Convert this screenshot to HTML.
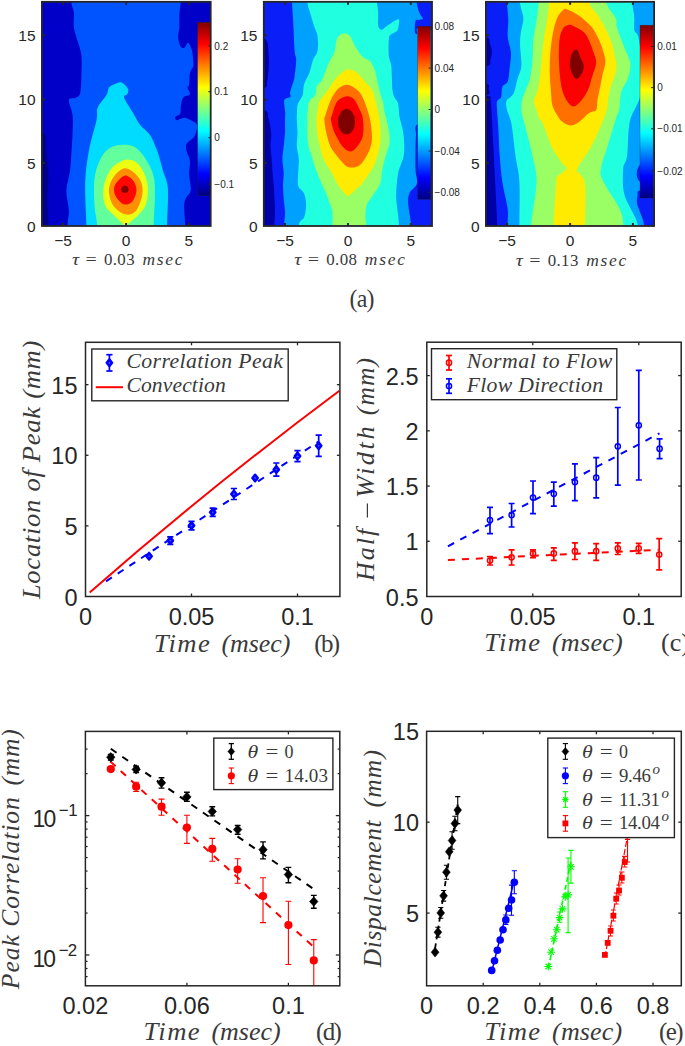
<!DOCTYPE html>
<html><head><meta charset="utf-8"><style>
html,body{margin:0;padding:0;background:#fff;}
body{width:685px;height:1046px;overflow:hidden;}
svg{display:block;}
</style></head><body>
<svg width="685" height="1046" viewBox="0 0 685 1046">
<rect x="0" y="0" width="685" height="1046" fill="#ffffff"/>
<defs><linearGradient id="jetg" x1="0" y1="0" x2="0" y2="1"><stop offset="0.0000" stop-color="#800000"/><stop offset="0.0312" stop-color="#9f0000"/><stop offset="0.0625" stop-color="#bf0000"/><stop offset="0.0938" stop-color="#df0000"/><stop offset="0.1250" stop-color="#ff0000"/><stop offset="0.1562" stop-color="#ff2000"/><stop offset="0.1875" stop-color="#ff4000"/><stop offset="0.2188" stop-color="#ff6000"/><stop offset="0.2500" stop-color="#ff8000"/><stop offset="0.2812" stop-color="#ff9f00"/><stop offset="0.3125" stop-color="#ffbf00"/><stop offset="0.3438" stop-color="#ffdf00"/><stop offset="0.3750" stop-color="#ffff00"/><stop offset="0.4062" stop-color="#dfff20"/><stop offset="0.4375" stop-color="#bfff40"/><stop offset="0.4688" stop-color="#9fff60"/><stop offset="0.5000" stop-color="#80ff80"/><stop offset="0.5312" stop-color="#60ff9f"/><stop offset="0.5625" stop-color="#40ffbf"/><stop offset="0.5938" stop-color="#20ffdf"/><stop offset="0.6250" stop-color="#00ffff"/><stop offset="0.6562" stop-color="#00dfff"/><stop offset="0.6875" stop-color="#00bfff"/><stop offset="0.7188" stop-color="#009fff"/><stop offset="0.7500" stop-color="#0080ff"/><stop offset="0.7812" stop-color="#0060ff"/><stop offset="0.8125" stop-color="#0040ff"/><stop offset="0.8438" stop-color="#0020ff"/><stop offset="0.8750" stop-color="#0000ff"/><stop offset="0.9062" stop-color="#0000df"/><stop offset="0.9375" stop-color="#0000bf"/><stop offset="0.9688" stop-color="#00009f"/><stop offset="1.0000" stop-color="#000080"/></linearGradient><clipPath id="c1"><rect x="42" y="2" width="168.7" height="224"/></clipPath><clipPath id="c2"><rect x="263.8" y="2" width="168.3" height="223.8"/></clipPath><clipPath id="c3"><rect x="485.9" y="2" width="168.2" height="224"/></clipPath></defs><g clip-path="url(#c1)"><rect x="30" y="-10" width="200" height="250" fill="#0054ff"/><path d="M71.4,-10.0 C80.0,-7.8 71.0,-0.8 71.4,3.0 C71.8,6.8 73.5,8.5 73.9,12.6 C74.3,16.7 73.3,22.8 73.9,27.6 C74.5,32.4 76.5,36.8 77.7,41.4 C79.0,46.0 80.8,49.6 81.4,55.2 C82.0,60.9 81.6,69.0 81.4,75.3 C81.2,81.6 81.2,89.1 80.2,92.9 C79.2,96.7 77.0,96.7 75.1,97.9 C73.2,99.1 69.3,97.2 68.9,100.1 C68.5,103.0 72.0,109.8 72.6,115.2 C73.2,120.7 72.8,126.5 72.6,132.8 C72.4,139.1 71.8,146.6 71.4,152.9 C71.0,159.2 70.9,164.1 70.1,170.4 C69.3,176.7 66.6,183.8 66.4,190.5 C66.2,197.2 68.7,204.9 68.9,210.6 C69.1,216.2 67.8,217.8 67.6,224.4 C67.4,231.0 75.5,245.7 67.6,250.0 C59.7,254.3 27.9,293.3 20.0,250.0 C12.1,206.7 11.4,33.3 20.0,-10.0 C28.6,-53.3 62.8,-12.2 71.4,-10.0 Z" fill="#0000c8"/><path d="M20.0,132.8 C23.9,113.3 39.1,129.9 43.5,132.8 C47.9,135.7 45.7,143.0 46.5,150.0 C47.3,157.0 48.3,166.7 48.5,175.0 C48.7,183.3 47.5,191.8 47.5,200.0 C47.5,208.2 48.3,215.7 48.5,224.0 C48.7,232.3 53.2,245.7 48.5,250.0 C43.8,254.3 24.8,269.5 20.0,250.0 C15.2,230.5 16.1,152.3 20.0,132.8 Z" fill="#00008c"/><path d="M180.6,-10.0 C170.7,-7.8 180.8,-1.2 180.6,3.0 C180.4,7.2 179.5,11.0 179.3,15.1 C179.1,19.2 179.5,23.8 179.3,27.6 C179.1,31.4 177.9,34.6 178.1,37.7 C178.3,40.8 179.5,44.7 180.6,46.4 C181.7,48.1 183.2,48.3 184.4,47.7 C185.7,47.1 186.8,42.3 188.1,42.7 C189.3,43.1 191.1,47.3 191.9,50.2 C192.7,53.1 192.9,57.3 193.1,60.0 C193.3,62.7 193.6,64.3 193.1,66.5 C192.6,68.7 190.6,70.0 189.9,73.0 C189.2,76.0 189.5,82.0 189.1,84.4 C188.7,86.9 187.3,86.1 187.4,87.7 C187.5,89.3 190.6,92.6 189.9,94.2 C189.2,95.8 184.9,95.5 183.4,97.4 C181.9,99.3 181.5,102.9 180.9,105.6 C180.3,108.3 181.1,111.8 180.1,113.7 C179.1,115.6 175.7,115.9 175.2,117.0 C174.7,118.1 175.4,120.1 176.9,120.2 C178.4,120.3 181.6,117.7 184.2,117.8 C186.8,117.9 190.1,119.8 192.3,121.0 C194.5,122.2 196.6,123.1 197.2,125.1 C197.8,127.1 196.3,131.0 195.6,133.2 C194.9,135.4 194.6,136.3 193.1,138.1 C191.6,139.9 187.7,141.6 186.6,143.8 C185.5,146.0 186.0,148.2 186.6,151.1 C187.2,153.9 189.5,157.1 189.9,160.9 C190.3,164.7 189.0,169.0 189.1,173.9 C189.2,178.8 191.2,186.1 190.7,190.2 C190.1,194.3 186.9,195.6 185.8,198.3 C184.7,201.0 184.3,202.2 184.2,206.5 C184.1,210.8 184.9,217.2 185.0,224.4 C185.1,231.7 175.8,245.7 185.0,250.0 C194.2,254.3 230.8,293.3 240.0,250.0 C249.2,206.7 249.9,33.3 240.0,-10.0 C230.1,-53.3 190.5,-12.2 180.6,-10.0 Z" fill="#0000c8"/><path d="M86.4,250.0 C73.0,246.0 86.6,237.2 86.4,226.0 C86.2,214.8 84.8,195.6 85.2,183.0 C85.6,170.4 87.1,160.8 89.0,150.3 C90.9,139.8 95.0,127.3 96.5,120.2 C98.0,113.1 96.0,111.9 97.7,107.7 C99.4,103.5 104.6,98.4 106.5,95.1 C108.4,91.8 107.5,89.5 109.0,87.6 C110.5,85.7 113.2,84.6 115.3,83.8 C117.4,83.0 119.5,81.8 121.6,82.6 C123.7,83.4 126.9,86.9 127.9,88.8 C128.9,90.7 128.0,92.4 127.4,93.9 C126.8,95.4 123.2,94.5 124.1,97.6 C125.0,100.7 130.2,108.1 132.9,112.7 C135.6,117.3 137.6,121.5 140.4,125.2 C143.2,128.9 147.2,130.6 150.0,134.9 C152.8,139.2 155.1,145.1 157.3,151.1 C159.5,157.1 161.2,164.4 163.0,170.7 C164.8,176.9 167.2,179.6 167.9,188.6 C168.6,197.6 167.2,214.2 167.1,224.4 C167.0,234.6 180.5,245.7 167.1,250.0 C153.7,254.3 99.9,254.0 86.4,250.0 Z" fill="#00dcff"/><path d="M97.1,250.0 C87.7,245.8 97.5,232.3 97.1,224.8 C96.7,217.3 94.9,212.8 94.5,205.1 C94.1,197.4 93.6,186.2 94.5,178.8 C95.4,171.4 97.3,165.4 99.7,160.4 C102.1,155.4 105.2,151.2 108.9,148.6 C112.6,146.0 117.7,144.9 122.1,144.7 C126.5,144.5 131.3,144.9 135.2,147.3 C139.1,149.7 142.6,154.3 145.7,159.1 C148.8,163.9 152.1,169.8 153.6,176.2 C155.1,182.5 154.9,189.1 154.9,197.2 C154.9,205.3 153.8,216.0 153.6,224.8 C153.4,233.6 163.0,245.8 153.6,250.0 C144.2,254.2 106.5,254.2 97.1,250.0 Z" fill="#62ff9d"/><path d="M124.7,159.9 C120.8,161.0 115.1,163.8 111.6,168.3 C108.1,172.8 104.8,180.6 103.7,186.7 C102.6,192.8 103.2,200.3 105.0,205.1 C106.8,209.9 111.5,212.8 114.2,215.6 C116.9,218.4 119.1,220.3 121.0,222.0 C122.9,223.7 124.1,225.5 125.7,225.5 C127.3,225.5 128.5,223.7 130.5,222.0 C132.5,220.3 135.3,218.4 137.8,215.6 C140.3,212.8 144.0,209.9 145.7,205.1 C147.4,200.3 148.2,192.4 147.8,186.7 C147.4,181.0 145.2,175.1 143.1,170.9 C141.0,166.7 138.3,163.5 135.2,161.7 C132.1,159.9 128.6,158.8 124.7,159.9 Z" fill="#ecff13"/><path d="M124.7,168.3 C121.2,168.7 116.8,172.7 114.2,176.2 C111.6,179.7 109.1,184.5 108.9,189.3 C108.7,194.1 110.3,200.9 112.9,205.1 C115.5,209.3 121.0,213.2 124.7,214.3 C128.4,215.4 132.3,214.5 135.2,211.7 C138.0,208.8 140.7,201.8 141.8,197.2 C142.9,192.6 142.9,188.0 141.8,184.1 C140.7,180.2 138.0,176.2 135.2,173.6 C132.3,171.0 128.2,167.9 124.7,168.3 Z" fill="#ff8f00"/><path d="M123.4,176.2 C121.2,177.4 117.0,181.5 115.5,184.1 C114.0,186.7 113.8,189.4 114.2,192.0 C114.6,194.6 116.3,197.7 118.1,199.8 C119.8,201.9 122.3,204.4 124.7,204.6 C127.1,204.8 130.6,203.5 132.6,201.2 C134.6,198.9 136.3,193.9 136.5,190.6 C136.7,187.3 135.2,183.8 133.9,181.5 C132.6,179.2 130.3,177.6 128.6,176.7 C126.8,175.8 125.6,175.0 123.4,176.2 Z" fill="#ff0600"/><circle cx="124.9" cy="189.3" r="3.6" fill="#820000"/></g><g clip-path="url(#c2)"><rect x="250" y="-10" width="200" height="250" fill="#00a0ff"/><path d="M292.1,-10.0 C300.8,-7.8 291.9,-2.9 292.1,3.1 C292.3,9.1 293.0,17.6 293.4,25.7 C293.8,33.8 294.2,45.7 294.7,51.4 C295.2,57.1 296.2,55.6 296.2,60.0 C296.1,64.3 295.1,73.1 294.4,77.5 C293.7,81.9 292.5,83.7 291.8,86.3 C291.1,88.9 290.2,91.5 290.0,93.3 C289.8,95.0 291.4,95.6 290.5,96.8 C289.6,98.0 285.2,97.7 284.3,100.3 C283.4,102.9 285.1,109.3 285.2,112.6 C285.3,115.9 285.0,116.6 285.0,120.0 C285.0,123.4 285.2,128.6 285.0,133.0 C284.8,137.4 284.1,141.9 283.7,146.3 C283.3,150.7 282.4,155.0 282.4,159.4 C282.4,163.8 283.6,168.2 283.7,172.6 C283.8,177.0 283.0,181.4 283.0,185.8 C283.0,190.2 283.4,194.5 283.7,198.9 C284.0,203.3 284.9,207.7 285.0,212.0 C285.1,216.3 284.4,218.7 284.3,225.0 C284.2,231.3 291.7,245.8 284.3,250.0 C276.9,254.2 247.4,293.3 240.0,250.0 C232.6,206.7 231.3,33.3 240.0,-10.0 C248.7,-53.3 283.4,-12.2 292.1,-10.0 Z" fill="#0a1ef8"/><path d="M240.0,38.5 C244.1,30.2 259.7,35.8 264.5,38.5 C269.3,41.2 267.9,49.8 268.6,55.0 C269.3,60.2 268.9,65.5 268.6,70.0 C268.3,74.5 267.8,79.0 267.0,82.0 C266.2,85.0 268.5,87.0 264.0,88.0 C259.5,89.0 244.0,96.2 240.0,88.0 C236.0,79.8 235.9,46.8 240.0,38.5 Z" fill="#0000a6"/><path d="M240.0,108.0 C244.1,84.7 259.8,108.3 264.5,110.0 C269.2,111.7 267.4,114.2 268.5,118.0 C269.6,121.8 270.9,128.3 271.2,133.0 C271.5,137.7 270.4,141.9 270.5,146.3 C270.6,150.7 271.5,155.0 271.8,159.4 C272.1,163.8 272.2,168.2 272.5,172.6 C272.8,177.0 273.5,181.4 273.8,185.8 C274.1,190.2 274.3,194.5 274.5,198.9 C274.7,203.3 275.1,207.7 275.1,212.0 C275.1,216.3 274.6,218.7 274.5,225.0 C274.4,231.3 280.2,245.8 274.5,250.0 C268.8,254.2 245.8,273.7 240.0,250.0 C234.2,226.3 235.9,131.3 240.0,108.0 Z" fill="#0000a6"/><path d="M416.7,-10.0 C412.0,-7.9 416.3,-1.2 416.7,2.5 C417.1,6.2 418.2,9.7 419.2,12.4 C420.2,15.1 422.9,17.4 422.9,18.6 C422.9,19.9 420.4,19.5 419.2,19.9 C418.0,20.3 416.2,19.0 415.5,21.1 C414.8,23.2 414.6,30.2 414.9,32.3 C415.2,34.4 416.7,34.2 417.4,33.5 C418.1,32.8 414.4,28.9 419.0,28.0 C423.6,27.1 440.7,34.3 445.0,28.0 C449.3,21.7 449.7,-3.7 445.0,-10.0 C440.3,-16.3 421.4,-12.1 416.7,-10.0 Z" fill="#0a1ef8"/><path d="M445.0,118.0 C440.5,97.0 422.8,121.2 418.0,124.0 C413.2,126.8 416.4,130.6 416.0,135.0 C415.6,139.4 415.6,144.3 415.5,150.2 C415.4,156.1 415.3,164.7 415.5,170.3 C415.7,175.9 417.9,179.9 416.9,183.7 C415.9,187.5 410.9,189.7 409.5,193.0 C408.1,196.3 408.0,198.6 408.2,203.7 C408.4,208.8 410.4,216.1 410.9,223.8 C411.3,231.5 405.2,245.6 410.9,250.0 C416.6,254.4 439.3,272.0 445.0,250.0 C450.7,228.0 449.5,139.0 445.0,118.0 Z" fill="#0a1ef8"/><path d="M307.5,-10.0 C295.9,-7.8 307.1,-0.8 307.5,3.0 C307.9,6.8 309.0,9.0 310.1,12.8 C311.2,16.6 312.8,21.8 314.0,25.7 C315.2,29.6 316.9,31.8 317.5,36.0 C318.1,40.2 318.2,47.0 317.5,51.0 C316.8,55.0 314.4,56.3 313.0,60.0 C311.6,63.7 310.8,69.0 309.3,73.1 C307.8,77.2 305.1,80.8 304.0,84.5 C302.9,88.2 303.7,91.8 302.7,95.0 C301.7,98.2 298.8,101.0 297.9,103.8 C296.9,106.6 297.2,109.3 297.0,112.0 C296.8,114.7 296.7,116.5 296.8,120.0 C296.9,123.5 297.5,128.6 297.5,133.0 C297.5,137.4 296.6,141.9 296.8,146.3 C297.0,150.7 298.6,155.0 298.8,159.4 C299.0,163.8 298.3,168.2 298.2,172.6 C298.1,177.0 297.2,182.3 298.2,185.8 C299.2,189.3 302.8,190.3 304.1,193.6 C305.4,196.9 306.1,201.6 306.1,205.5 C306.1,209.4 305.3,214.1 304.1,217.3 C302.9,220.6 299.7,219.6 298.8,225.0 C297.9,230.4 282.1,245.8 298.8,250.0 C315.5,254.2 382.3,254.4 399.0,250.0 C415.7,245.6 399.1,230.4 398.8,223.8 C398.6,217.2 397.9,214.9 397.5,210.4 C397.1,205.9 396.2,201.6 396.1,197.1 C396.0,192.6 396.4,188.2 396.8,183.7 C397.2,179.2 397.7,174.8 398.8,170.3 C399.9,165.8 402.6,161.4 403.5,156.9 C404.4,152.4 404.3,148.0 404.2,143.5 C404.1,139.0 403.6,134.5 402.8,130.1 C402.0,125.6 400.3,121.2 399.5,116.8 C398.7,112.3 399.0,106.8 398.1,103.4 C397.2,100.1 395.0,98.9 394.1,96.7 C393.2,94.5 392.9,92.7 392.5,90.0 C392.1,87.3 392.2,84.8 392.0,80.8 C391.8,76.8 391.8,70.1 391.3,65.9 C390.8,61.8 389.2,60.2 388.8,55.9 C388.4,51.5 388.5,43.3 388.8,39.8 C389.1,36.3 389.2,36.2 390.6,34.8 C392.0,33.3 395.5,32.8 396.9,31.1 C398.2,29.5 398.5,26.9 398.7,24.9 C398.9,22.9 400.1,19.1 398.1,19.3 C396.1,19.5 389.6,24.4 386.9,26.1 C384.2,27.9 383.3,29.8 381.9,29.8 C380.4,29.8 378.8,29.0 378.2,26.1 C377.6,23.2 378.4,16.3 378.2,12.4 C378.0,8.5 377.2,6.2 377.0,2.5 C376.8,-1.2 388.6,-7.9 377.0,-10.0 C365.4,-12.1 319.1,-12.2 307.5,-10.0 Z" fill="#20ffdf"/><path d="M343.5,33.4 C341.4,33.8 338.6,35.5 337.1,38.5 C335.6,41.5 336.0,47.1 334.5,51.4 C333.0,55.7 330.2,59.4 328.1,64.2 C326.0,69.0 323.9,76.3 322.0,80.0 C320.1,83.7 317.8,83.8 316.7,86.3 C315.6,88.8 316.6,92.5 315.4,95.0 C314.2,97.5 310.6,98.3 309.3,101.2 C308.0,104.1 307.8,109.5 307.5,112.6 C307.2,115.7 307.3,116.6 307.3,120.0 C307.3,123.4 307.1,128.6 307.3,133.0 C307.5,137.4 307.8,142.3 308.6,146.3 C309.4,150.3 311.0,153.5 312.0,156.8 C313.0,160.1 313.5,162.7 314.6,166.0 C315.7,169.3 317.0,172.8 318.5,176.5 C320.0,180.2 322.0,184.1 323.8,188.3 C325.6,192.5 327.7,197.6 329.1,201.5 C330.5,205.4 331.8,208.1 332.4,212.0 C332.9,215.9 332.4,218.7 332.4,225.0 C332.4,231.3 326.8,245.8 332.4,250.0 C338.0,254.2 360.4,254.4 366.0,250.0 C371.6,245.6 366.1,229.3 366.0,223.8 C365.9,218.3 365.3,220.2 365.4,217.1 C365.5,214.0 365.4,208.9 366.7,205.1 C368.0,201.3 371.2,198.0 373.4,194.4 C375.6,190.8 378.7,187.7 380.1,183.7 C381.6,179.7 381.2,174.8 382.1,170.3 C383.0,165.8 384.2,161.4 385.4,156.9 C386.6,152.4 388.8,148.0 389.4,143.5 C390.0,139.0 389.7,135.7 388.8,130.1 C387.9,124.5 385.0,114.6 384.1,110.1 C383.2,105.6 384.0,106.3 383.2,103.1 C382.4,99.9 380.5,94.6 379.5,90.7 C378.5,86.8 377.8,83.0 377.0,79.5 C376.2,76.0 375.7,72.7 374.5,69.6 C373.3,66.5 371.9,63.1 370.0,61.0 C368.1,58.9 365.3,59.5 362.8,57.0 C360.3,54.5 357.2,49.7 355.1,46.2 C353.0,42.7 351.8,38.1 349.9,36.0 C348.0,33.9 345.6,33.0 343.5,33.4 Z" fill="#9aff64"/><path d="M347.4,69.4 C344.0,70.1 340.3,73.7 337.1,77.1 C333.9,80.5 330.6,86.5 328.1,89.9 C325.6,93.3 323.5,95.5 322.0,97.7 C320.5,99.9 319.7,100.5 318.9,103.0 C318.1,105.5 317.6,109.8 317.2,112.6 C316.8,115.4 316.5,116.6 316.5,120.0 C316.5,123.4 316.6,128.6 317.2,133.0 C317.8,137.4 318.7,141.9 319.8,146.3 C320.9,150.7 321.7,155.0 323.7,159.4 C325.7,163.8 329.4,168.7 331.6,172.6 C333.8,176.5 334.9,179.8 336.9,183.1 C338.9,186.4 341.5,190.2 343.5,192.3 C345.5,194.4 346.3,196.4 348.7,195.6 C351.1,194.8 355.7,188.9 357.6,187.4 C359.5,185.9 358.5,188.0 360.0,186.3 C361.5,184.6 364.2,180.8 366.7,177.0 C369.1,173.2 372.5,169.2 374.7,163.6 C376.9,158.0 379.2,150.2 380.1,143.5 C381.0,136.8 380.8,130.2 380.1,123.5 C379.4,116.8 377.5,109.0 376.1,103.4 C374.8,97.8 373.8,93.5 372.0,90.0 C370.2,86.5 367.7,85.0 365.3,82.2 C362.9,79.4 360.6,75.3 357.6,73.2 C354.6,71.1 350.8,68.8 347.4,69.4 Z" fill="#ffeb00"/><path d="M347.4,84.8 C344.5,84.7 341.2,86.0 338.4,88.6 C335.6,91.2 332.8,95.8 330.7,100.2 C328.6,104.6 326.6,111.8 325.5,115.1 C324.4,118.4 324.2,117.0 324.4,120.0 C324.5,123.0 325.4,128.6 326.4,133.0 C327.4,137.4 328.8,142.8 330.3,146.3 C331.8,149.8 333.6,151.6 335.6,154.2 C337.6,156.8 339.9,159.8 342.1,162.0 C344.3,164.2 345.7,166.8 348.7,167.3 C351.7,167.8 356.6,167.8 360.0,164.9 C363.4,162.1 367.4,154.9 369.4,150.2 C371.4,145.5 372.0,142.4 372.0,136.8 C372.0,131.2 371.0,123.4 369.4,116.8 C367.8,110.2 364.7,101.6 362.5,97.0 C360.3,92.4 358.5,91.0 356.0,89.0 C353.5,87.0 350.3,84.9 347.4,84.8 Z" fill="#ff7000"/><path d="M346.1,96.4 C343.3,96.8 339.5,98.4 337.1,101.5 C334.8,104.6 333.0,112.0 332.0,115.1 C331.0,118.2 330.7,117.4 331.0,120.0 C331.3,122.6 332.4,127.2 333.6,130.5 C334.8,133.8 336.6,136.8 338.2,139.7 C339.8,142.5 341.5,145.6 343.5,147.6 C345.5,149.6 348.0,151.5 350.1,151.5 C352.2,151.5 354.3,150.1 356.4,147.5 C358.5,144.9 361.7,140.9 362.8,136.0 C363.9,131.1 363.5,122.7 362.8,118.0 C362.1,113.3 360.4,111.1 358.9,107.9 C357.4,104.7 355.9,100.8 353.8,98.9 C351.7,97.0 348.9,96.0 346.1,96.4 Z" fill="#fa0000"/><ellipse cx="346.5" cy="121.8" rx="8.6" ry="12.8" fill="#800000"/></g><g clip-path="url(#c3)"><rect x="470" y="-10" width="200" height="250" fill="#00a0ff"/><path d="M507.0,-10.0 C514.8,-7.7 506.8,-1.0 507.0,3.9 C507.2,8.8 508.2,14.2 508.3,19.7 C508.4,25.2 507.3,31.3 507.7,36.8 C508.1,42.3 510.6,47.4 510.9,52.6 C511.2,57.9 510.1,63.5 509.6,68.3 C509.1,73.1 508.9,78.4 507.7,81.5 C506.5,84.6 503.5,84.1 502.4,86.7 C501.3,89.3 502.0,94.8 501.1,97.2 C500.2,99.6 497.8,99.1 497.1,101.2 C496.4,103.3 496.9,105.3 497.1,110.0 C497.3,114.7 498.0,121.8 498.4,129.4 C498.8,137.0 499.0,146.9 499.7,155.7 C500.4,164.5 501.0,173.2 502.3,182.0 C503.6,190.8 506.7,201.2 507.6,208.2 C508.5,215.2 507.6,217.0 507.6,224.0 C507.6,231.0 515.5,245.7 507.6,250.0 C499.7,254.3 467.9,293.3 460.0,250.0 C452.1,206.7 452.2,33.3 460.0,-10.0 C467.8,-53.3 499.2,-12.3 507.0,-10.0 Z" fill="#0a1ef8"/><path d="M460.0,36.0 C464.3,31.2 481.0,35.7 486.0,37.0 C491.0,38.3 489.0,41.7 490.0,44.0 C491.0,46.3 491.8,48.3 491.9,51.0 C492.0,53.7 491.3,57.5 490.5,60.0 C489.7,62.5 492.1,65.0 487.0,66.0 C481.9,67.0 464.5,71.0 460.0,66.0 C455.5,61.0 455.7,40.8 460.0,36.0 Z" fill="#0000a6"/><path d="M460.0,83.0 C464.3,81.1 481.2,82.5 486.0,83.5 C490.8,84.5 488.4,87.1 488.6,89.0 C488.8,90.9 491.8,94.0 487.0,95.0 C482.2,96.0 464.5,97.0 460.0,95.0 C455.5,93.0 455.7,84.9 460.0,83.0 Z" fill="#0000a6"/><path d="M460.0,96.0 C464.7,70.3 482.9,95.3 488.0,96.0 C493.1,96.7 489.9,96.6 490.5,100.0 C491.1,103.4 491.4,109.2 491.8,116.3 C492.2,123.4 492.7,133.8 493.1,142.5 C493.6,151.2 494.1,160.0 494.5,168.8 C494.9,177.6 495.4,185.9 495.8,195.1 C496.2,204.3 496.9,214.8 497.1,224.0 C497.3,233.2 503.3,245.7 497.1,250.0 C490.9,254.3 466.2,275.7 460.0,250.0 C453.8,224.3 455.3,121.7 460.0,96.0 Z" fill="#0000a6"/><path d="M670.0,190.0 C665.2,180.0 646.4,189.0 641.0,190.0 C635.6,191.0 638.2,193.8 637.5,196.0 C636.8,198.2 636.6,200.3 637.0,203.0 C637.4,205.7 638.9,208.4 640.0,212.0 C641.1,215.6 643.2,218.3 643.9,224.6 C644.5,230.9 639.5,245.8 643.9,250.0 C648.2,254.2 665.6,260.0 670.0,250.0 C674.4,240.0 674.8,200.0 670.0,190.0 Z" fill="#0a1ef8"/><path d="M641.0,165.0 C640.4,163.0 638.2,167.5 637.5,169.0 C636.8,170.5 636.8,172.3 636.8,174.0 C636.8,175.7 637.1,177.8 637.8,179.0 C638.5,180.2 640.5,183.3 641.0,181.0 C641.5,178.7 641.6,167.0 641.0,165.0 Z" fill="#0a1ef8"/><path d="M520.1,-10.0 C501.4,-7.7 519.6,-0.8 520.1,3.9 C520.6,8.6 523.3,13.6 523.4,18.4 C523.5,23.2 521.3,28.2 520.8,32.8 C520.2,37.4 520.0,40.5 520.1,46.0 C520.2,51.5 521.8,60.2 521.4,65.7 C521.0,71.2 518.7,74.4 517.5,78.8 C516.3,83.2 515.4,88.9 514.2,92.0 C513.0,95.1 511.6,95.7 510.3,97.2 C509.0,98.7 506.9,99.1 506.3,101.2 C505.8,103.3 506.1,106.2 507.0,110.0 C507.9,113.8 510.1,116.6 511.5,124.2 C512.9,131.8 514.2,146.1 515.5,155.7 C516.8,165.3 518.8,170.6 519.4,182.0 C520.0,193.4 519.4,212.7 519.4,224.0 C519.4,235.3 499.7,245.7 519.4,250.0 C539.1,254.3 617.9,254.3 637.6,250.0 C657.3,245.7 639.8,233.2 637.6,224.0 C635.4,214.8 626.9,204.3 624.5,195.1 C622.1,185.9 622.8,175.4 623.2,168.8 C623.6,162.2 626.0,163.6 627.1,155.7 C628.2,147.8 627.6,131.6 629.8,121.5 C632.0,111.4 638.4,105.5 640.3,95.3 C642.2,85.0 641.3,69.8 641.0,60.0 C640.7,50.2 639.4,41.8 638.3,36.8 C637.2,31.8 635.0,33.5 634.3,30.2 C633.6,26.9 634.6,21.5 634.3,17.1 C634.0,12.7 632.7,8.4 632.4,3.9 C632.1,-0.6 651.1,-7.7 632.4,-10.0 C613.7,-12.3 538.8,-12.3 520.1,-10.0 Z" fill="#20ffdf"/><path d="M538.5,-10.0 C527.1,-7.7 538.8,-1.0 538.5,3.9 C538.2,8.8 537.5,13.8 536.6,19.7 C535.7,25.6 534.0,32.8 533.3,39.4 C532.6,46.0 533.1,52.5 532.6,59.1 C532.1,65.7 531.1,73.8 530.0,78.8 C528.9,83.8 527.3,85.8 526.0,89.3 C524.7,92.8 522.9,96.5 522.1,99.9 C521.3,103.4 521.2,107.0 521.4,110.0 C521.5,113.0 522.2,114.8 523.0,118.0 C523.8,121.2 524.4,123.1 526.0,129.4 C527.6,135.7 530.8,146.9 532.5,155.7 C534.2,164.5 536.7,170.6 536.5,182.0 C536.3,193.4 532.1,212.7 531.2,224.0 C530.3,235.3 515.9,245.7 531.2,250.0 C546.5,254.3 607.9,254.3 623.2,250.0 C638.5,245.7 623.9,231.0 623.2,224.0 C622.6,217.0 622.6,215.2 619.3,208.2 C616.0,201.2 606.6,188.6 603.5,182.0 C600.4,175.4 600.0,175.4 600.9,168.8 C601.8,162.2 606.1,151.2 608.7,142.5 C611.3,133.8 614.9,121.7 616.6,116.3 C618.4,110.9 618.4,114.0 619.2,110.0 C620.0,106.0 619.8,97.2 621.2,92.0 C622.6,86.8 626.3,83.4 627.8,78.8 C629.3,74.2 630.6,68.8 630.4,64.4 C630.2,60.0 627.9,56.8 626.4,52.6 C624.9,48.4 622.8,43.8 621.2,39.4 C619.6,35.0 617.5,29.8 616.6,26.3 C615.7,22.8 617.5,22.1 615.9,18.4 C614.2,14.7 608.2,8.6 606.7,3.9 C605.2,-0.8 618.1,-7.7 606.7,-10.0 C595.3,-12.3 549.9,-12.3 538.5,-10.0 Z" fill="#9aff64"/><path d="M549.0,-10.0 C542.2,-7.7 549.3,-1.0 549.0,3.9 C548.7,8.8 548.0,13.8 547.1,19.7 C546.2,25.6 544.7,33.3 543.8,39.4 C542.9,45.5 542.3,50.8 541.8,56.5 C541.2,62.2 541.1,68.1 540.5,73.6 C539.9,79.1 539.0,84.7 537.9,89.3 C536.8,93.9 534.1,97.8 533.9,101.2 C533.7,104.7 535.8,107.2 536.6,110.0 C537.5,112.8 537.9,115.6 539.0,118.0 C540.1,120.4 540.9,119.2 543.1,124.2 C545.3,129.2 549.1,141.3 552.3,147.8 C555.4,154.3 559.6,159.5 562.0,163.0 C564.4,166.5 567.4,166.6 566.7,168.8 C566.0,171.0 559.8,173.8 558.0,176.0 C556.2,178.2 556.9,174.0 556.2,182.0 C555.5,190.0 554.0,212.7 553.6,224.0 C553.2,235.3 548.4,245.7 553.6,250.0 C558.9,254.3 579.9,254.3 585.1,250.0 C590.4,245.7 585.1,234.9 585.1,224.0 C585.1,213.1 586.0,192.9 585.1,184.6 C584.2,176.3 581.3,176.6 580.0,174.0 C578.7,171.4 575.5,173.2 577.2,168.8 C578.9,164.4 586.6,154.6 590.4,147.8 C594.2,141.0 597.3,134.3 600.0,128.0 C602.7,121.7 605.4,114.7 606.7,110.0 C608.0,105.3 607.3,103.8 608.0,99.9 C608.7,96.0 609.6,90.7 610.7,86.7 C611.8,82.8 613.6,79.7 614.6,76.2 C615.6,72.7 616.6,69.2 616.6,65.7 C616.6,62.2 615.4,58.9 614.6,55.2 C613.8,51.5 613.1,46.9 612.0,43.4 C610.9,39.9 609.5,37.5 608.0,34.2 C606.5,30.9 604.8,27.1 602.8,23.6 C600.8,20.1 598.4,16.4 596.2,13.1 C594.0,9.8 590.8,7.8 589.7,3.9 C588.6,0.0 596.5,-7.7 589.7,-10.0 C582.9,-12.3 555.8,-12.3 549.0,-10.0 Z" fill="#ffeb00"/><path d="M566.7,9.2 C564.0,8.3 564.3,9.2 562.8,10.5 C561.3,11.8 559.2,13.4 557.6,17.1 C556.0,20.8 554.2,26.9 553.0,32.8 C551.8,38.7 550.9,46.0 550.4,52.6 C549.9,59.2 549.6,65.7 549.7,72.3 C549.8,78.9 550.6,86.5 551.0,92.0 C551.4,97.5 551.4,101.4 552.3,105.1 C553.2,108.8 554.9,111.3 556.5,114.0 C558.1,116.7 559.6,119.6 562.0,121.5 C564.4,123.4 567.8,125.4 570.6,125.5 C573.4,125.6 575.9,124.1 579.0,122.0 C582.1,119.9 586.1,115.0 589.0,113.0 C591.9,111.0 594.8,112.2 596.2,110.0 C597.6,107.8 596.8,103.8 597.5,99.9 C598.2,96.0 599.3,91.1 600.2,86.7 C601.1,82.3 601.9,77.8 602.8,73.6 C603.7,69.4 605.4,65.8 605.4,61.8 C605.4,57.8 604.1,54.1 602.8,49.9 C601.5,45.7 599.5,40.7 597.5,36.8 C595.5,32.9 594.1,29.8 591.0,26.3 C587.9,22.8 583.1,18.7 579.1,15.8 C575.1,13.0 569.4,10.1 566.7,9.2 Z" fill="#ff7000"/><path d="M568.1,25.0 C566.2,25.4 564.2,26.5 562.8,28.9 C561.4,31.3 560.1,34.4 559.5,39.4 C558.9,44.4 558.8,52.5 558.9,59.1 C559.0,65.7 559.6,73.3 560.2,78.8 C560.9,84.3 561.5,88.0 562.8,92.0 C564.1,96.0 566.2,100.1 568.1,102.5 C570.0,104.9 571.6,106.8 573.9,106.4 C576.2,106.0 579.4,102.8 581.8,99.9 C584.2,97.1 586.5,93.2 588.3,89.3 C590.0,85.3 591.0,80.6 592.3,76.2 C593.6,71.8 596.0,67.0 596.2,63.1 C596.4,59.2 594.7,56.1 593.6,52.6 C592.5,49.1 591.2,45.3 589.7,42.0 C588.2,38.7 587.0,35.4 584.4,32.8 C581.8,30.2 576.6,27.6 573.9,26.3 C571.2,25.0 570.0,24.6 568.1,25.0 Z" fill="#fa0000"/><path d="M576.5,49.3 C575.0,48.9 572.4,52.2 571.3,55.2 C570.2,58.2 569.2,63.1 570.0,67.0 C570.8,70.9 573.9,77.7 575.9,78.8 C577.9,79.9 580.5,75.8 581.8,73.6 C583.1,71.4 583.9,68.3 583.7,65.7 C583.5,63.1 581.7,60.5 580.5,57.8 C579.3,55.1 578.0,49.7 576.5,49.3 Z" fill="#800000"/></g><rect x="197.6" y="22.3" width="12.700000000000017" height="173.39999999999998" fill="url(#jetg)"/><rect x="197.6" y="22.3" width="12.700000000000017" height="173.39999999999998" fill="none" stroke="#262626" stroke-width="0.6" stroke-opacity="0.5"/><line x1="210.3" y1="45.9" x2="208.3" y2="45.9" stroke="#262626" stroke-width="1"/><text x="214.3" y="49.5" font-family="'Liberation Sans', sans-serif" font-size="10" font-style="normal" text-anchor="start" fill="#262626" >0.2</text><line x1="210.3" y1="91.7" x2="208.3" y2="91.7" stroke="#262626" stroke-width="1"/><text x="214.3" y="95.3" font-family="'Liberation Sans', sans-serif" font-size="10" font-style="normal" text-anchor="start" fill="#262626" >0.1</text><line x1="210.3" y1="137.7" x2="208.3" y2="137.7" stroke="#262626" stroke-width="1"/><text x="214.3" y="141.29999999999998" font-family="'Liberation Sans', sans-serif" font-size="10" font-style="normal" text-anchor="start" fill="#262626" >0</text><line x1="210.3" y1="184.1" x2="208.3" y2="184.1" stroke="#262626" stroke-width="1"/><text x="214.3" y="187.7" font-family="'Liberation Sans', sans-serif" font-size="10" font-style="normal" text-anchor="start" fill="#262626" >−0.1</text><rect x="417.7" y="26.3" width="12.900000000000034" height="173.0" fill="url(#jetg)"/><rect x="417.7" y="26.3" width="12.900000000000034" height="173.0" fill="none" stroke="#262626" stroke-width="0.6" stroke-opacity="0.5"/><line x1="430.6" y1="26.8" x2="428.6" y2="26.8" stroke="#262626" stroke-width="1"/><text x="434.6" y="30.400000000000002" font-family="'Liberation Sans', sans-serif" font-size="10" font-style="normal" text-anchor="start" fill="#262626" >0.08</text><line x1="430.6" y1="68.1" x2="428.6" y2="68.1" stroke="#262626" stroke-width="1"/><text x="434.6" y="71.69999999999999" font-family="'Liberation Sans', sans-serif" font-size="10" font-style="normal" text-anchor="start" fill="#262626" >0.04</text><line x1="430.6" y1="109.5" x2="428.6" y2="109.5" stroke="#262626" stroke-width="1"/><text x="434.6" y="113.1" font-family="'Liberation Sans', sans-serif" font-size="10" font-style="normal" text-anchor="start" fill="#262626" >0</text><line x1="430.6" y1="151" x2="428.6" y2="151" stroke="#262626" stroke-width="1"/><text x="434.6" y="154.6" font-family="'Liberation Sans', sans-serif" font-size="10" font-style="normal" text-anchor="start" fill="#262626" >−0.04</text><line x1="430.6" y1="192.3" x2="428.6" y2="192.3" stroke="#262626" stroke-width="1"/><text x="434.6" y="195.9" font-family="'Liberation Sans', sans-serif" font-size="10" font-style="normal" text-anchor="start" fill="#262626" >−0.08</text><rect x="640" y="25.2" width="13.200000000000045" height="172.8" fill="url(#jetg)"/><rect x="640" y="25.2" width="13.200000000000045" height="172.8" fill="none" stroke="#262626" stroke-width="0.6" stroke-opacity="0.5"/><line x1="653.2" y1="46.5" x2="651.2" y2="46.5" stroke="#262626" stroke-width="1"/><text x="657.3" y="50.1" font-family="'Liberation Sans', sans-serif" font-size="10" font-style="normal" text-anchor="start" fill="#262626" >0.01</text><line x1="653.2" y1="87.6" x2="651.2" y2="87.6" stroke="#262626" stroke-width="1"/><text x="657.3" y="91.19999999999999" font-family="'Liberation Sans', sans-serif" font-size="10" font-style="normal" text-anchor="start" fill="#262626" >0</text><line x1="653.2" y1="128.8" x2="651.2" y2="128.8" stroke="#262626" stroke-width="1"/><text x="657.3" y="132.4" font-family="'Liberation Sans', sans-serif" font-size="10" font-style="normal" text-anchor="start" fill="#262626" >−0.01</text><line x1="653.2" y1="171" x2="651.2" y2="171" stroke="#262626" stroke-width="1"/><text x="657.3" y="174.6" font-family="'Liberation Sans', sans-serif" font-size="10" font-style="normal" text-anchor="start" fill="#262626" >−0.02</text><line x1="63.1" y1="226.0" x2="63.1" y2="223.0" stroke="#262626" stroke-width="2.0"/><line x1="63.1" y1="1.8" x2="63.1" y2="4.8" stroke="#262626" stroke-width="2.0"/><line x1="126.1" y1="226.0" x2="126.1" y2="223.0" stroke="#262626" stroke-width="2.0"/><line x1="126.1" y1="1.8" x2="126.1" y2="4.8" stroke="#262626" stroke-width="2.0"/><line x1="188.9" y1="226.0" x2="188.9" y2="223.0" stroke="#262626" stroke-width="2.0"/><line x1="188.9" y1="1.8" x2="188.9" y2="4.8" stroke="#262626" stroke-width="2.0"/><line x1="41.9" y1="35.3" x2="44.9" y2="35.3" stroke="#262626" stroke-width="2.0"/><line x1="41.9" y1="99.6" x2="44.9" y2="99.6" stroke="#262626" stroke-width="2.0"/><line x1="41.9" y1="162.9" x2="44.9" y2="162.9" stroke="#262626" stroke-width="2.0"/><rect x="41.9" y="1.8" width="168.79999999999998" height="224.2" fill="none" stroke="#262626" stroke-width="1.8"/><text x="63.1" y="246.3" font-family="'Liberation Sans', sans-serif" font-size="15.5" font-style="normal" text-anchor="middle" fill="#262626" >−5</text><text x="126.1" y="246.3" font-family="'Liberation Sans', sans-serif" font-size="15.5" font-style="normal" text-anchor="middle" fill="#262626" >0</text><text x="188.9" y="246.3" font-family="'Liberation Sans', sans-serif" font-size="15.5" font-style="normal" text-anchor="middle" fill="#262626" >5</text><text x="35.6" y="40.9" font-family="'Liberation Sans', sans-serif" font-size="15.5" font-style="normal" text-anchor="end" fill="#262626" >15</text><text x="35.6" y="105.19999999999999" font-family="'Liberation Sans', sans-serif" font-size="15.5" font-style="normal" text-anchor="end" fill="#262626" >10</text><text x="35.6" y="168.5" font-family="'Liberation Sans', sans-serif" font-size="15.5" font-style="normal" text-anchor="end" fill="#262626" >5</text><text x="35.6" y="231.6" font-family="'Liberation Sans', sans-serif" font-size="15.5" font-style="normal" text-anchor="end" fill="#262626" >0</text><line x1="285.0" y1="226.0" x2="285.0" y2="223.0" stroke="#262626" stroke-width="2.0"/><line x1="285.0" y1="1.8" x2="285.0" y2="4.8" stroke="#262626" stroke-width="2.0"/><line x1="348.0" y1="226.0" x2="348.0" y2="223.0" stroke="#262626" stroke-width="2.0"/><line x1="348.0" y1="1.8" x2="348.0" y2="4.8" stroke="#262626" stroke-width="2.0"/><line x1="410.8" y1="226.0" x2="410.8" y2="223.0" stroke="#262626" stroke-width="2.0"/><line x1="410.8" y1="1.8" x2="410.8" y2="4.8" stroke="#262626" stroke-width="2.0"/><line x1="263.8" y1="35.3" x2="266.8" y2="35.3" stroke="#262626" stroke-width="2.0"/><line x1="263.8" y1="99.6" x2="266.8" y2="99.6" stroke="#262626" stroke-width="2.0"/><line x1="263.8" y1="162.9" x2="266.8" y2="162.9" stroke="#262626" stroke-width="2.0"/><rect x="263.8" y="1.8" width="168.2" height="224.2" fill="none" stroke="#262626" stroke-width="1.8"/><text x="285.0" y="246.3" font-family="'Liberation Sans', sans-serif" font-size="15.5" font-style="normal" text-anchor="middle" fill="#262626" >−5</text><text x="348.0" y="246.3" font-family="'Liberation Sans', sans-serif" font-size="15.5" font-style="normal" text-anchor="middle" fill="#262626" >0</text><text x="410.8" y="246.3" font-family="'Liberation Sans', sans-serif" font-size="15.5" font-style="normal" text-anchor="middle" fill="#262626" >5</text><text x="257.5" y="40.9" font-family="'Liberation Sans', sans-serif" font-size="15.5" font-style="normal" text-anchor="end" fill="#262626" >15</text><text x="257.5" y="105.19999999999999" font-family="'Liberation Sans', sans-serif" font-size="15.5" font-style="normal" text-anchor="end" fill="#262626" >10</text><text x="257.5" y="168.5" font-family="'Liberation Sans', sans-serif" font-size="15.5" font-style="normal" text-anchor="end" fill="#262626" >5</text><text x="257.5" y="231.6" font-family="'Liberation Sans', sans-serif" font-size="15.5" font-style="normal" text-anchor="end" fill="#262626" >0</text><line x1="507.1" y1="226.0" x2="507.1" y2="223.0" stroke="#262626" stroke-width="2.0"/><line x1="507.1" y1="1.8" x2="507.1" y2="4.8" stroke="#262626" stroke-width="2.0"/><line x1="570.1" y1="226.0" x2="570.1" y2="223.0" stroke="#262626" stroke-width="2.0"/><line x1="570.1" y1="1.8" x2="570.1" y2="4.8" stroke="#262626" stroke-width="2.0"/><line x1="632.9" y1="226.0" x2="632.9" y2="223.0" stroke="#262626" stroke-width="2.0"/><line x1="632.9" y1="1.8" x2="632.9" y2="4.8" stroke="#262626" stroke-width="2.0"/><line x1="485.9" y1="35.3" x2="488.9" y2="35.3" stroke="#262626" stroke-width="2.0"/><line x1="485.9" y1="99.6" x2="488.9" y2="99.6" stroke="#262626" stroke-width="2.0"/><line x1="485.9" y1="162.9" x2="488.9" y2="162.9" stroke="#262626" stroke-width="2.0"/><rect x="485.9" y="1.8" width="168.20000000000005" height="224.2" fill="none" stroke="#262626" stroke-width="1.8"/><text x="507.1" y="246.3" font-family="'Liberation Sans', sans-serif" font-size="15.5" font-style="normal" text-anchor="middle" fill="#262626" >−5</text><text x="570.1" y="246.3" font-family="'Liberation Sans', sans-serif" font-size="15.5" font-style="normal" text-anchor="middle" fill="#262626" >0</text><text x="632.9" y="246.3" font-family="'Liberation Sans', sans-serif" font-size="15.5" font-style="normal" text-anchor="middle" fill="#262626" >5</text><text x="479.59999999999997" y="40.9" font-family="'Liberation Sans', sans-serif" font-size="15.5" font-style="normal" text-anchor="end" fill="#262626" >15</text><text x="479.59999999999997" y="105.19999999999999" font-family="'Liberation Sans', sans-serif" font-size="15.5" font-style="normal" text-anchor="end" fill="#262626" >10</text><text x="479.59999999999997" y="168.5" font-family="'Liberation Sans', sans-serif" font-size="15.5" font-style="normal" text-anchor="end" fill="#262626" >5</text><text x="479.59999999999997" y="231.6" font-family="'Liberation Sans', sans-serif" font-size="15.5" font-style="normal" text-anchor="end" fill="#262626" >0</text><clipPath id="cb"><rect x="85.5" y="342.3" width="254.39999999999998" height="254.2"/></clipPath><g clip-path="url(#cb)"><path d="M89.7,592.4 Q207.6,489.1 339.4,390.8" fill="none" stroke="#ff0000" stroke-width="2"/><line x1="106.00" y1="581.30" x2="318.70" y2="441.50" stroke="#0000ff" stroke-width="2.0" stroke-dasharray="7 7"/><path d="M149.10,553.00 L151.70,556.20 L149.10,559.40 L146.50,556.20 Z" fill="#5050ff" stroke="#0000ff" stroke-width="2.6" stroke-linejoin="round"/><line x1="170.30" y1="536.80" x2="170.30" y2="544.40" stroke="#0000ff" stroke-width="1.7" /><line x1="167.20" y1="536.80" x2="173.40" y2="536.80" stroke="#0000ff" stroke-width="1.7" /><line x1="167.20" y1="544.40" x2="173.40" y2="544.40" stroke="#0000ff" stroke-width="1.7" /><path d="M170.30,537.40 L172.90,540.60 L170.30,543.80 L167.70,540.60 Z" fill="#5050ff" stroke="#0000ff" stroke-width="2.6" stroke-linejoin="round"/><line x1="191.50" y1="521.40" x2="191.50" y2="529.80" stroke="#0000ff" stroke-width="1.7" /><line x1="188.40" y1="521.40" x2="194.60" y2="521.40" stroke="#0000ff" stroke-width="1.7" /><line x1="188.40" y1="529.80" x2="194.60" y2="529.80" stroke="#0000ff" stroke-width="1.7" /><path d="M191.50,522.40 L194.10,525.60 L191.50,528.80 L188.90,525.60 Z" fill="#5050ff" stroke="#0000ff" stroke-width="2.6" stroke-linejoin="round"/><line x1="212.70" y1="508.20" x2="212.70" y2="516.40" stroke="#0000ff" stroke-width="1.7" /><line x1="209.60" y1="508.20" x2="215.80" y2="508.20" stroke="#0000ff" stroke-width="1.7" /><line x1="209.60" y1="516.40" x2="215.80" y2="516.40" stroke="#0000ff" stroke-width="1.7" /><path d="M212.70,509.10 L215.30,512.30 L212.70,515.50 L210.10,512.30 Z" fill="#5050ff" stroke="#0000ff" stroke-width="2.6" stroke-linejoin="round"/><line x1="233.90" y1="488.50" x2="233.90" y2="499.50" stroke="#0000ff" stroke-width="1.7" /><line x1="230.80" y1="488.50" x2="237.00" y2="488.50" stroke="#0000ff" stroke-width="1.7" /><line x1="230.80" y1="499.50" x2="237.00" y2="499.50" stroke="#0000ff" stroke-width="1.7" /><path d="M233.90,490.80 L236.50,494.00 L233.90,497.20 L231.30,494.00 Z" fill="#5050ff" stroke="#0000ff" stroke-width="2.6" stroke-linejoin="round"/><path d="M255.10,474.80 L257.70,478.00 L255.10,481.20 L252.50,478.00 Z" fill="#5050ff" stroke="#0000ff" stroke-width="2.6" stroke-linejoin="round"/><line x1="276.30" y1="463.00" x2="276.30" y2="476.20" stroke="#0000ff" stroke-width="1.7" /><line x1="273.20" y1="463.00" x2="279.40" y2="463.00" stroke="#0000ff" stroke-width="1.7" /><line x1="273.20" y1="476.20" x2="279.40" y2="476.20" stroke="#0000ff" stroke-width="1.7" /><path d="M276.30,466.40 L278.90,469.60 L276.30,472.80 L273.70,469.60 Z" fill="#5050ff" stroke="#0000ff" stroke-width="2.6" stroke-linejoin="round"/><line x1="297.50" y1="450.60" x2="297.50" y2="461.60" stroke="#0000ff" stroke-width="1.7" /><line x1="294.40" y1="450.60" x2="300.60" y2="450.60" stroke="#0000ff" stroke-width="1.7" /><line x1="294.40" y1="461.60" x2="300.60" y2="461.60" stroke="#0000ff" stroke-width="1.7" /><path d="M297.50,452.90 L300.10,456.10 L297.50,459.30 L294.90,456.10 Z" fill="#5050ff" stroke="#0000ff" stroke-width="2.6" stroke-linejoin="round"/><line x1="318.70" y1="435.20" x2="318.70" y2="456.40" stroke="#0000ff" stroke-width="1.7" /><line x1="315.60" y1="435.20" x2="321.80" y2="435.20" stroke="#0000ff" stroke-width="1.7" /><line x1="315.60" y1="456.40" x2="321.80" y2="456.40" stroke="#0000ff" stroke-width="1.7" /><path d="M318.70,442.60 L321.30,445.80 L318.70,449.00 L316.10,445.80 Z" fill="#5050ff" stroke="#0000ff" stroke-width="2.6" stroke-linejoin="round"/></g><line x1="191.5" y1="596.5" x2="191.5" y2="593.5" stroke="#262626" stroke-width="1.3"/><line x1="191.5" y1="342.3" x2="191.5" y2="345.3" stroke="#262626" stroke-width="1.3"/><line x1="297.5" y1="596.5" x2="297.5" y2="593.5" stroke="#262626" stroke-width="1.3"/><line x1="297.5" y1="342.3" x2="297.5" y2="345.3" stroke="#262626" stroke-width="1.3"/><line x1="85.5" y1="525.89" x2="88.5" y2="525.89" stroke="#262626" stroke-width="1.3"/><line x1="339.9" y1="525.89" x2="336.9" y2="525.89" stroke="#262626" stroke-width="1.3"/><line x1="85.5" y1="455.28" x2="88.5" y2="455.28" stroke="#262626" stroke-width="1.3"/><line x1="339.9" y1="455.28" x2="336.9" y2="455.28" stroke="#262626" stroke-width="1.3"/><line x1="85.5" y1="384.67" x2="88.5" y2="384.67" stroke="#262626" stroke-width="1.3"/><line x1="339.9" y1="384.67" x2="336.9" y2="384.67" stroke="#262626" stroke-width="1.3"/><rect x="85.5" y="342.3" width="254.40" height="254.20" fill="none" stroke="#262626" stroke-width="1.5"/><text x="85.5" y="624.5" font-family="'Liberation Sans', sans-serif" font-size="23.5" font-style="normal" text-anchor="middle" fill="#262626" >0</text><text x="191.5" y="624.5" font-family="'Liberation Sans', sans-serif" font-size="23.5" font-style="normal" text-anchor="middle" fill="#262626" >0.05</text><text x="297.5" y="624.5" font-family="'Liberation Sans', sans-serif" font-size="23.5" font-style="normal" text-anchor="middle" fill="#262626" >0.1</text><text x="77.5" y="605.5" font-family="'Liberation Sans', sans-serif" font-size="23.5" font-style="normal" text-anchor="end" fill="#262626" >0</text><text x="77.5" y="534.89" font-family="'Liberation Sans', sans-serif" font-size="23.5" font-style="normal" text-anchor="end" fill="#262626" >5</text><text x="77.5" y="464.28" font-family="'Liberation Sans', sans-serif" font-size="23.5" font-style="normal" text-anchor="end" fill="#262626" >10</text><text x="77.5" y="393.67" font-family="'Liberation Sans', sans-serif" font-size="23.5" font-style="normal" text-anchor="end" fill="#262626" >15</text><rect x="91.8" y="349.0" width="196.40" height="51.80" fill="#ffffff" stroke="#262626" stroke-width="1.4"/><line x1="109.40" y1="354.70" x2="109.40" y2="371.00" stroke="#0000ff" stroke-width="1.7" /><line x1="106.30" y1="354.70" x2="112.50" y2="354.70" stroke="#0000ff" stroke-width="1.7" /><line x1="106.30" y1="371.00" x2="112.50" y2="371.00" stroke="#0000ff" stroke-width="1.7" /><path d="M109.40,359.60 L112.00,362.80 L109.40,366.00 L106.80,362.80 Z" fill="#5050ff" stroke="#0000ff" stroke-width="2.6" stroke-linejoin="round"/><line x1="95.80" y1="387.20" x2="123.00" y2="387.20" stroke="#ff0000" stroke-width="2" /><text x="-0.00" y="0" transform="translate(126.40,368.10) scale(1.0123,1)" font-family="'Liberation Serif', serif" font-size="21.5" font-style="italic" fill="#3a3a3a" textLength="154.65" lengthAdjust="spacing">Correlation Peak</text><text x="-0.00" y="0" transform="translate(126.40,392.00) scale(1.0037,1)" font-family="'Liberation Serif', serif" font-size="21.5" font-style="italic" fill="#3a3a3a" textLength="99.01" lengthAdjust="spacing">Convection</text><text x="-0.00" y="0" transform="translate(153.80,651.90) scale(1.0258,1)" font-family="'Liberation Serif', serif" font-size="26" font-style="italic" fill="#3a3a3a" textLength="54.59" lengthAdjust="spacing">Time</text><text x="-0.00" y="0" transform="translate(221.50,651.90) scale(0.9986,1)" font-family="'Liberation Serif', serif" font-size="26" font-style="italic" fill="#3a3a3a" textLength="69.00" lengthAdjust="spacing">(msec)</text><text x="-0.00" y="0" transform="translate(314.30,651.90) scale(0.9598,1)" font-family="'Liberation Serif', serif" font-size="26" font-style="normal" fill="#3a3a3a" textLength="26.81" lengthAdjust="spacing">(b)</text><text x="0.39" y="0" transform="translate(40.10,599.50) rotate(-90) scale(1.0197,1)" font-family="'Liberation Serif', serif" font-size="26" font-style="italic" fill="#3a3a3a" textLength="253.46" lengthAdjust="spacing">Location of Peak (mm)</text><clipPath id="cc"><rect x="426.8" y="342.2" width="254.40000000000003" height="254.3"/></clipPath><g clip-path="url(#cc)"><line x1="447.90" y1="546.30" x2="659.50" y2="433.30" stroke="#0000ff" stroke-width="2.0" stroke-dasharray="7 7"/><line x1="447.90" y1="560.00" x2="658.60" y2="549.80" stroke="#ff0000" stroke-width="2.0" stroke-dasharray="7 7"/><line x1="490.00" y1="556.70" x2="490.00" y2="565.00" stroke="#ff0000" stroke-width="1.7" /><line x1="487.00" y1="556.70" x2="493.00" y2="556.70" stroke="#ff0000" stroke-width="1.7" /><line x1="487.00" y1="565.00" x2="493.00" y2="565.00" stroke="#ff0000" stroke-width="1.7" /><circle cx="490.00" cy="560.60" r="2.6" fill="none" stroke="#ff0000" stroke-width="1.5"/><line x1="511.60" y1="549.80" x2="511.60" y2="565.00" stroke="#ff0000" stroke-width="1.7" /><line x1="508.60" y1="549.80" x2="514.60" y2="549.80" stroke="#ff0000" stroke-width="1.7" /><line x1="508.60" y1="565.00" x2="514.60" y2="565.00" stroke="#ff0000" stroke-width="1.7" /><circle cx="511.60" cy="557.30" r="2.6" fill="none" stroke="#ff0000" stroke-width="1.5"/><line x1="533.00" y1="549.80" x2="533.00" y2="557.60" stroke="#ff0000" stroke-width="1.7" /><line x1="530.00" y1="549.80" x2="536.00" y2="549.80" stroke="#ff0000" stroke-width="1.7" /><line x1="530.00" y1="557.60" x2="536.00" y2="557.60" stroke="#ff0000" stroke-width="1.7" /><circle cx="533.00" cy="553.40" r="2.6" fill="none" stroke="#ff0000" stroke-width="1.5"/><line x1="553.80" y1="547.90" x2="553.80" y2="560.30" stroke="#ff0000" stroke-width="1.7" /><line x1="550.80" y1="547.90" x2="556.80" y2="547.90" stroke="#ff0000" stroke-width="1.7" /><line x1="550.80" y1="560.30" x2="556.80" y2="560.30" stroke="#ff0000" stroke-width="1.7" /><circle cx="553.80" cy="553.40" r="2.6" fill="none" stroke="#ff0000" stroke-width="1.5"/><line x1="574.90" y1="542.90" x2="574.90" y2="559.50" stroke="#ff0000" stroke-width="1.7" /><line x1="571.90" y1="542.90" x2="577.90" y2="542.90" stroke="#ff0000" stroke-width="1.7" /><line x1="571.90" y1="559.50" x2="577.90" y2="559.50" stroke="#ff0000" stroke-width="1.7" /><circle cx="574.90" cy="551.20" r="2.6" fill="none" stroke="#ff0000" stroke-width="1.5"/><line x1="596.20" y1="543.70" x2="596.20" y2="560.30" stroke="#ff0000" stroke-width="1.7" /><line x1="593.20" y1="543.70" x2="599.20" y2="543.70" stroke="#ff0000" stroke-width="1.7" /><line x1="593.20" y1="560.30" x2="599.20" y2="560.30" stroke="#ff0000" stroke-width="1.7" /><circle cx="596.20" cy="551.20" r="2.6" fill="none" stroke="#ff0000" stroke-width="1.5"/><line x1="617.80" y1="542.90" x2="617.80" y2="554.50" stroke="#ff0000" stroke-width="1.7" /><line x1="614.80" y1="542.90" x2="620.80" y2="542.90" stroke="#ff0000" stroke-width="1.7" /><line x1="614.80" y1="554.50" x2="620.80" y2="554.50" stroke="#ff0000" stroke-width="1.7" /><circle cx="617.80" cy="548.40" r="2.6" fill="none" stroke="#ff0000" stroke-width="1.5"/><line x1="638.70" y1="543.40" x2="638.70" y2="553.40" stroke="#ff0000" stroke-width="1.7" /><line x1="635.70" y1="543.40" x2="641.70" y2="543.40" stroke="#ff0000" stroke-width="1.7" /><line x1="635.70" y1="553.40" x2="641.70" y2="553.40" stroke="#ff0000" stroke-width="1.7" /><circle cx="638.70" cy="548.40" r="2.6" fill="none" stroke="#ff0000" stroke-width="1.5"/><line x1="659.20" y1="538.70" x2="659.20" y2="569.80" stroke="#ff0000" stroke-width="1.7" /><line x1="656.20" y1="538.70" x2="662.20" y2="538.70" stroke="#ff0000" stroke-width="1.7" /><line x1="656.20" y1="569.80" x2="662.20" y2="569.80" stroke="#ff0000" stroke-width="1.7" /><circle cx="659.20" cy="554.50" r="2.6" fill="none" stroke="#ff0000" stroke-width="1.5"/><line x1="490.00" y1="507.30" x2="490.00" y2="533.70" stroke="#0000ff" stroke-width="1.7" /><line x1="487.00" y1="507.30" x2="493.00" y2="507.30" stroke="#0000ff" stroke-width="1.7" /><line x1="487.00" y1="533.70" x2="493.00" y2="533.70" stroke="#0000ff" stroke-width="1.7" /><circle cx="490.00" cy="520.10" r="2.6" fill="none" stroke="#0000ff" stroke-width="1.5"/><line x1="511.60" y1="503.50" x2="511.60" y2="527.00" stroke="#0000ff" stroke-width="1.7" /><line x1="508.60" y1="503.50" x2="514.60" y2="503.50" stroke="#0000ff" stroke-width="1.7" /><line x1="508.60" y1="527.00" x2="514.60" y2="527.00" stroke="#0000ff" stroke-width="1.7" /><circle cx="511.60" cy="515.10" r="2.6" fill="none" stroke="#0000ff" stroke-width="1.5"/><line x1="533.00" y1="481.00" x2="533.00" y2="513.70" stroke="#0000ff" stroke-width="1.7" /><line x1="530.00" y1="481.00" x2="536.00" y2="481.00" stroke="#0000ff" stroke-width="1.7" /><line x1="530.00" y1="513.70" x2="536.00" y2="513.70" stroke="#0000ff" stroke-width="1.7" /><circle cx="533.00" cy="497.60" r="2.6" fill="none" stroke="#0000ff" stroke-width="1.5"/><line x1="553.80" y1="482.10" x2="553.80" y2="506.20" stroke="#0000ff" stroke-width="1.7" /><line x1="550.80" y1="482.10" x2="556.80" y2="482.10" stroke="#0000ff" stroke-width="1.7" /><line x1="550.80" y1="506.20" x2="556.80" y2="506.20" stroke="#0000ff" stroke-width="1.7" /><circle cx="553.80" cy="493.80" r="2.6" fill="none" stroke="#0000ff" stroke-width="1.5"/><line x1="574.90" y1="463.80" x2="574.90" y2="500.70" stroke="#0000ff" stroke-width="1.7" /><line x1="571.90" y1="463.80" x2="577.90" y2="463.80" stroke="#0000ff" stroke-width="1.7" /><line x1="571.90" y1="500.70" x2="577.90" y2="500.70" stroke="#0000ff" stroke-width="1.7" /><circle cx="574.90" cy="482.10" r="2.6" fill="none" stroke="#0000ff" stroke-width="1.5"/><line x1="596.20" y1="457.70" x2="596.20" y2="497.90" stroke="#0000ff" stroke-width="1.7" /><line x1="593.20" y1="457.70" x2="599.20" y2="457.70" stroke="#0000ff" stroke-width="1.7" /><line x1="593.20" y1="497.90" x2="599.20" y2="497.90" stroke="#0000ff" stroke-width="1.7" /><circle cx="596.20" cy="477.70" r="2.6" fill="none" stroke="#0000ff" stroke-width="1.5"/><line x1="617.80" y1="407.50" x2="617.80" y2="485.10" stroke="#0000ff" stroke-width="1.7" /><line x1="614.80" y1="407.50" x2="620.80" y2="407.50" stroke="#0000ff" stroke-width="1.7" /><line x1="614.80" y1="485.10" x2="620.80" y2="485.10" stroke="#0000ff" stroke-width="1.7" /><circle cx="617.80" cy="446.30" r="2.6" fill="none" stroke="#0000ff" stroke-width="1.5"/><line x1="638.80" y1="370.40" x2="638.80" y2="480.00" stroke="#0000ff" stroke-width="1.7" /><line x1="635.80" y1="370.40" x2="641.80" y2="370.40" stroke="#0000ff" stroke-width="1.7" /><line x1="635.80" y1="480.00" x2="641.80" y2="480.00" stroke="#0000ff" stroke-width="1.7" /><circle cx="638.80" cy="425.30" r="2.6" fill="none" stroke="#0000ff" stroke-width="1.5"/><line x1="659.60" y1="438.90" x2="659.60" y2="458.70" stroke="#0000ff" stroke-width="1.7" /><line x1="656.60" y1="438.90" x2="662.60" y2="438.90" stroke="#0000ff" stroke-width="1.7" /><line x1="656.60" y1="458.70" x2="662.60" y2="458.70" stroke="#0000ff" stroke-width="1.7" /><circle cx="659.60" cy="448.70" r="2.6" fill="none" stroke="#0000ff" stroke-width="1.5"/></g><line x1="532.8" y1="596.5" x2="532.8" y2="593.5" stroke="#262626" stroke-width="1.3"/><line x1="532.8" y1="342.2" x2="532.8" y2="345.2" stroke="#262626" stroke-width="1.3"/><line x1="638.8" y1="596.5" x2="638.8" y2="593.5" stroke="#262626" stroke-width="1.3"/><line x1="638.8" y1="342.2" x2="638.8" y2="345.2" stroke="#262626" stroke-width="1.3"/><line x1="426.8" y1="541.275" x2="429.8" y2="541.275" stroke="#262626" stroke-width="1.3"/><line x1="681.2" y1="541.275" x2="678.2" y2="541.275" stroke="#262626" stroke-width="1.3"/><line x1="426.8" y1="486.05" x2="429.8" y2="486.05" stroke="#262626" stroke-width="1.3"/><line x1="681.2" y1="486.05" x2="678.2" y2="486.05" stroke="#262626" stroke-width="1.3"/><line x1="426.8" y1="430.825" x2="429.8" y2="430.825" stroke="#262626" stroke-width="1.3"/><line x1="681.2" y1="430.825" x2="678.2" y2="430.825" stroke="#262626" stroke-width="1.3"/><line x1="426.8" y1="375.6" x2="429.8" y2="375.6" stroke="#262626" stroke-width="1.3"/><line x1="681.2" y1="375.6" x2="678.2" y2="375.6" stroke="#262626" stroke-width="1.3"/><rect x="426.8" y="342.2" width="254.40" height="254.30" fill="none" stroke="#262626" stroke-width="1.5"/><text x="426.8" y="624.5" font-family="'Liberation Sans', sans-serif" font-size="23.5" font-style="normal" text-anchor="middle" fill="#262626" >0</text><text x="532.8" y="624.5" font-family="'Liberation Sans', sans-serif" font-size="23.5" font-style="normal" text-anchor="middle" fill="#262626" >0.05</text><text x="638.8" y="624.5" font-family="'Liberation Sans', sans-serif" font-size="23.5" font-style="normal" text-anchor="middle" fill="#262626" >0.1</text><text x="418.5" y="605.5" font-family="'Liberation Sans', sans-serif" font-size="23.5" font-style="normal" text-anchor="end" fill="#262626" >0.5</text><text x="418.5" y="550.27" font-family="'Liberation Sans', sans-serif" font-size="23.5" font-style="normal" text-anchor="end" fill="#262626" >1</text><text x="418.5" y="495.05" font-family="'Liberation Sans', sans-serif" font-size="23.5" font-style="normal" text-anchor="end" fill="#262626" >1.5</text><text x="418.5" y="439.82" font-family="'Liberation Sans', sans-serif" font-size="23.5" font-style="normal" text-anchor="end" fill="#262626" >2</text><text x="418.5" y="384.6" font-family="'Liberation Sans', sans-serif" font-size="23.5" font-style="normal" text-anchor="end" fill="#262626" >2.5</text><rect x="431.5" y="348.7" width="185.30" height="51.00" fill="#ffffff" stroke="#262626" stroke-width="1.4"/><line x1="449.00" y1="355.50" x2="449.00" y2="370.00" stroke="#ff0000" stroke-width="1.7" /><line x1="446.00" y1="355.50" x2="452.00" y2="355.50" stroke="#ff0000" stroke-width="1.7" /><line x1="446.00" y1="370.00" x2="452.00" y2="370.00" stroke="#ff0000" stroke-width="1.7" /><circle cx="449.00" cy="362.70" r="2.6" fill="none" stroke="#ff0000" stroke-width="1.5"/><line x1="449.00" y1="378.80" x2="449.00" y2="393.30" stroke="#0000ff" stroke-width="1.7" /><line x1="446.00" y1="378.80" x2="452.00" y2="378.80" stroke="#0000ff" stroke-width="1.7" /><line x1="446.00" y1="393.30" x2="452.00" y2="393.30" stroke="#0000ff" stroke-width="1.7" /><circle cx="449.00" cy="386.00" r="2.6" fill="none" stroke="#0000ff" stroke-width="1.5"/><text x="0.21" y="0" transform="translate(466.50,367.50) scale(1.0146,1)" font-family="'Liberation Serif', serif" font-size="21.5" font-style="italic" fill="#3a3a3a" textLength="143.48" lengthAdjust="spacing">Normal to Flow</text><text x="0.21" y="0" transform="translate(466.50,391.60) scale(1.0096,1)" font-family="'Liberation Serif', serif" font-size="21.5" font-style="italic" fill="#3a3a3a" textLength="135.00" lengthAdjust="spacing">Flow Direction</text><text x="-0.00" y="0" transform="translate(484.20,650.60) scale(1.0258,1)" font-family="'Liberation Serif', serif" font-size="26" font-style="italic" fill="#3a3a3a" textLength="54.59" lengthAdjust="spacing">Time</text><text x="-0.00" y="0" transform="translate(551.90,650.60) scale(1.0058,1)" font-family="'Liberation Serif', serif" font-size="26" font-style="italic" fill="#3a3a3a" textLength="70.50" lengthAdjust="spacing">(msec)</text><text x="-0.00" y="0" transform="translate(661.10,650.60) scale(1.0003,1)" font-family="'Liberation Serif', serif" font-size="26" font-style="normal" fill="#3a3a3a" textLength="28.89" lengthAdjust="spacing">(c)</text><text x="0.38" y="0" transform="translate(373.90,581.30) rotate(-90) scale(1.0383,1)" font-family="'Liberation Serif', serif" font-size="25" font-style="italic" fill="#3a3a3a" textLength="50.15" lengthAdjust="spacing">Half</text><line x1="367.40" y1="503.40" x2="367.40" y2="517.60" stroke="#3a3a3a" stroke-width="1.2" /><text x="-0.00" y="0" transform="translate(373.90,498.10) rotate(-90) scale(1.0531,1)" font-family="'Liberation Serif', serif" font-size="25" font-style="italic" fill="#3a3a3a" textLength="68.14" lengthAdjust="spacing">Width</text><text x="-0.00" y="0" transform="translate(373.90,415.20) rotate(-90) scale(1.0200,1)" font-family="'Liberation Serif', serif" font-size="25" font-style="italic" fill="#3a3a3a" textLength="55.99" lengthAdjust="spacing">(mm)</text><clipPath id="cd"><rect x="85.4" y="731.4" width="254.4" height="254.39999999999998"/></clipPath><g clip-path="url(#cd)"><line x1="110.80" y1="748.80" x2="313.40" y2="888.90" stroke="#000000" stroke-width="2.0" stroke-dasharray="7 7"/><line x1="110.40" y1="761.60" x2="313.40" y2="946.70" stroke="#ff0000" stroke-width="2.0" stroke-dasharray="7 7"/><line x1="110.78" y1="754.50" x2="110.78" y2="760.00" stroke="#000000" stroke-width="1.4" /><line x1="107.88" y1="754.50" x2="113.68" y2="754.50" stroke="#000000" stroke-width="1.4" /><line x1="107.88" y1="760.00" x2="113.68" y2="760.00" stroke="#000000" stroke-width="1.4" /><path d="M110.78,752.50 L114.98,757.20 L110.78,761.90 L106.58,757.20 Z" fill="#000000" stroke="#000000" stroke-width="0.6" stroke-linejoin="round"/><line x1="136.15" y1="766.20" x2="136.15" y2="772.60" stroke="#000000" stroke-width="1.4" /><line x1="133.25" y1="766.20" x2="139.05" y2="766.20" stroke="#000000" stroke-width="1.4" /><line x1="133.25" y1="772.60" x2="139.05" y2="772.60" stroke="#000000" stroke-width="1.4" /><path d="M136.15,764.70 L140.35,769.40 L136.15,774.10 L131.95,769.40 Z" fill="#000000" stroke="#000000" stroke-width="0.6" stroke-linejoin="round"/><line x1="161.53" y1="777.70" x2="161.53" y2="788.10" stroke="#000000" stroke-width="1.4" /><line x1="158.62" y1="777.70" x2="164.43" y2="777.70" stroke="#000000" stroke-width="1.4" /><line x1="158.62" y1="788.10" x2="164.43" y2="788.10" stroke="#000000" stroke-width="1.4" /><path d="M161.53,778.10 L165.72,782.80 L161.53,787.50 L157.33,782.80 Z" fill="#000000" stroke="#000000" stroke-width="0.6" stroke-linejoin="round"/><line x1="186.90" y1="792.30" x2="186.90" y2="801.40" stroke="#000000" stroke-width="1.4" /><line x1="184.00" y1="792.30" x2="189.80" y2="792.30" stroke="#000000" stroke-width="1.4" /><line x1="184.00" y1="801.40" x2="189.80" y2="801.40" stroke="#000000" stroke-width="1.4" /><path d="M186.90,792.20 L191.10,796.90 L186.90,801.60 L182.70,796.90 Z" fill="#000000" stroke="#000000" stroke-width="0.6" stroke-linejoin="round"/><line x1="212.28" y1="806.70" x2="212.28" y2="815.90" stroke="#000000" stroke-width="1.4" /><line x1="209.38" y1="806.70" x2="215.18" y2="806.70" stroke="#000000" stroke-width="1.4" /><line x1="209.38" y1="815.90" x2="215.18" y2="815.90" stroke="#000000" stroke-width="1.4" /><path d="M212.28,806.80 L216.47,811.50 L212.28,816.20 L208.08,811.50 Z" fill="#000000" stroke="#000000" stroke-width="0.6" stroke-linejoin="round"/><line x1="237.65" y1="825.50" x2="237.65" y2="834.30" stroke="#000000" stroke-width="1.4" /><line x1="234.75" y1="825.50" x2="240.55" y2="825.50" stroke="#000000" stroke-width="1.4" /><line x1="234.75" y1="834.30" x2="240.55" y2="834.30" stroke="#000000" stroke-width="1.4" /><path d="M237.65,824.90 L241.85,829.60 L237.65,834.30 L233.45,829.60 Z" fill="#000000" stroke="#000000" stroke-width="0.6" stroke-linejoin="round"/><line x1="263.02" y1="841.90" x2="263.02" y2="858.90" stroke="#000000" stroke-width="1.4" /><line x1="260.12" y1="841.90" x2="265.92" y2="841.90" stroke="#000000" stroke-width="1.4" /><line x1="260.12" y1="858.90" x2="265.92" y2="858.90" stroke="#000000" stroke-width="1.4" /><path d="M263.02,845.00 L267.22,849.70 L263.02,854.40 L258.82,849.70 Z" fill="#000000" stroke="#000000" stroke-width="0.6" stroke-linejoin="round"/><line x1="288.40" y1="867.40" x2="288.40" y2="882.80" stroke="#000000" stroke-width="1.4" /><line x1="285.50" y1="867.40" x2="291.30" y2="867.40" stroke="#000000" stroke-width="1.4" /><line x1="285.50" y1="882.80" x2="291.30" y2="882.80" stroke="#000000" stroke-width="1.4" /><path d="M288.40,869.90 L292.60,874.60 L288.40,879.30 L284.20,874.60 Z" fill="#000000" stroke="#000000" stroke-width="0.6" stroke-linejoin="round"/><line x1="313.77" y1="895.40" x2="313.77" y2="908.30" stroke="#000000" stroke-width="1.4" /><line x1="310.88" y1="895.40" x2="316.67" y2="895.40" stroke="#000000" stroke-width="1.4" /><line x1="310.88" y1="908.30" x2="316.67" y2="908.30" stroke="#000000" stroke-width="1.4" /><path d="M313.77,896.90 L317.97,901.60 L313.77,906.30 L309.57,901.60 Z" fill="#000000" stroke="#000000" stroke-width="0.6" stroke-linejoin="round"/><line x1="110.78" y1="767.00" x2="110.78" y2="771.00" stroke="#ff0000" stroke-width="1.1" /><line x1="107.78" y1="767.00" x2="113.78" y2="767.00" stroke="#ff0000" stroke-width="1.1" /><line x1="107.78" y1="771.00" x2="113.78" y2="771.00" stroke="#ff0000" stroke-width="1.1" /><circle cx="110.78" cy="769.10" r="4.1" fill="#ff0000" stroke="#ff0000" stroke-width="0"/><line x1="136.15" y1="782.20" x2="136.15" y2="791.50" stroke="#ff0000" stroke-width="1.1" /><line x1="133.15" y1="782.20" x2="139.15" y2="782.20" stroke="#ff0000" stroke-width="1.1" /><line x1="133.15" y1="791.50" x2="139.15" y2="791.50" stroke="#ff0000" stroke-width="1.1" /><circle cx="136.15" cy="786.70" r="4.1" fill="#ff0000" stroke="#ff0000" stroke-width="0"/><line x1="161.53" y1="799.10" x2="161.53" y2="815.30" stroke="#ff0000" stroke-width="1.1" /><line x1="158.53" y1="799.10" x2="164.53" y2="799.10" stroke="#ff0000" stroke-width="1.1" /><line x1="158.53" y1="815.30" x2="164.53" y2="815.30" stroke="#ff0000" stroke-width="1.1" /><circle cx="161.53" cy="806.70" r="4.1" fill="#ff0000" stroke="#ff0000" stroke-width="0"/><line x1="186.90" y1="815.30" x2="186.90" y2="843.40" stroke="#ff0000" stroke-width="1.1" /><line x1="183.90" y1="815.30" x2="189.90" y2="815.30" stroke="#ff0000" stroke-width="1.1" /><line x1="183.90" y1="843.40" x2="189.90" y2="843.40" stroke="#ff0000" stroke-width="1.1" /><circle cx="186.90" cy="827.60" r="4.1" fill="#ff0000" stroke="#ff0000" stroke-width="0"/><line x1="212.28" y1="838.40" x2="212.28" y2="861.30" stroke="#ff0000" stroke-width="1.1" /><line x1="209.28" y1="838.40" x2="215.28" y2="838.40" stroke="#ff0000" stroke-width="1.1" /><line x1="209.28" y1="861.30" x2="215.28" y2="861.30" stroke="#ff0000" stroke-width="1.1" /><circle cx="212.28" cy="848.90" r="4.1" fill="#ff0000" stroke="#ff0000" stroke-width="0"/><line x1="237.65" y1="858.70" x2="237.65" y2="883.20" stroke="#ff0000" stroke-width="1.1" /><line x1="234.65" y1="858.70" x2="240.65" y2="858.70" stroke="#ff0000" stroke-width="1.1" /><line x1="234.65" y1="883.20" x2="240.65" y2="883.20" stroke="#ff0000" stroke-width="1.1" /><circle cx="237.65" cy="869.50" r="4.1" fill="#ff0000" stroke="#ff0000" stroke-width="0"/><line x1="263.02" y1="877.70" x2="263.02" y2="922.60" stroke="#ff0000" stroke-width="1.1" /><line x1="260.02" y1="877.70" x2="266.02" y2="877.70" stroke="#ff0000" stroke-width="1.1" /><line x1="260.02" y1="922.60" x2="266.02" y2="922.60" stroke="#ff0000" stroke-width="1.1" /><circle cx="263.02" cy="896.10" r="4.1" fill="#ff0000" stroke="#ff0000" stroke-width="0"/><line x1="288.40" y1="901.20" x2="288.40" y2="964.50" stroke="#ff0000" stroke-width="1.1" /><line x1="285.40" y1="901.20" x2="291.40" y2="901.20" stroke="#ff0000" stroke-width="1.1" /><line x1="285.40" y1="964.50" x2="291.40" y2="964.50" stroke="#ff0000" stroke-width="1.1" /><circle cx="288.40" cy="925.10" r="4.1" fill="#ff0000" stroke="#ff0000" stroke-width="0"/><line x1="313.77" y1="939.60" x2="313.77" y2="992.00" stroke="#ff0000" stroke-width="1.1" /><line x1="310.77" y1="939.60" x2="316.77" y2="939.60" stroke="#ff0000" stroke-width="1.1" /><line x1="310.77" y1="992.00" x2="316.77" y2="992.00" stroke="#ff0000" stroke-width="1.1" /><circle cx="313.77" cy="960.40" r="4.1" fill="#ff0000" stroke="#ff0000" stroke-width="0"/></g><line x1="186.89999999999998" y1="985.8" x2="186.89999999999998" y2="982.8" stroke="#262626" stroke-width="1.3"/><line x1="186.89999999999998" y1="731.4" x2="186.89999999999998" y2="734.4" stroke="#262626" stroke-width="1.3"/><line x1="288.4" y1="985.8" x2="288.4" y2="982.8" stroke="#262626" stroke-width="1.3"/><line x1="288.4" y1="731.4" x2="288.4" y2="734.4" stroke="#262626" stroke-width="1.3"/><line x1="85.4" y1="815.6" x2="89.4" y2="815.6" stroke="#262626" stroke-width="1.3"/><line x1="339.8" y1="815.6" x2="335.8" y2="815.6" stroke="#262626" stroke-width="1.3"/><line x1="85.4" y1="955.0" x2="89.4" y2="955.0" stroke="#262626" stroke-width="1.3"/><line x1="339.8" y1="955.0" x2="335.8" y2="955.0" stroke="#262626" stroke-width="1.3"/><line x1="85.4" y1="976.5933332220126" x2="87.60000000000001" y2="976.5933332220126" stroke="#262626" stroke-width="1.2"/><line x1="339.8" y1="976.5933332220126" x2="337.6" y2="976.5933332220126" stroke="#262626" stroke-width="1.2"/><line x1="85.4" y1="968.5092558133231" x2="87.60000000000001" y2="968.5092558133231" stroke="#262626" stroke-width="1.2"/><line x1="339.8" y1="968.5092558133231" x2="337.6" y2="968.5092558133231" stroke="#262626" stroke-width="1.2"/><line x1="85.4" y1="961.3785941841581" x2="87.60000000000001" y2="961.3785941841581" stroke="#262626" stroke-width="1.2"/><line x1="339.8" y1="961.3785941841581" x2="337.6" y2="961.3785941841581" stroke="#262626" stroke-width="1.2"/><line x1="85.4" y1="913.036418604441" x2="87.60000000000001" y2="913.036418604441" stroke="#262626" stroke-width="1.2"/><line x1="339.8" y1="913.036418604441" x2="337.6" y2="913.036418604441" stroke="#262626" stroke-width="1.2"/><line x1="85.4" y1="888.4892970920791" x2="87.60000000000001" y2="888.4892970920791" stroke="#262626" stroke-width="1.2"/><line x1="339.8" y1="888.4892970920791" x2="337.6" y2="888.4892970920791" stroke="#262626" stroke-width="1.2"/><line x1="85.4" y1="871.072837208882" x2="87.60000000000001" y2="871.072837208882" stroke="#262626" stroke-width="1.2"/><line x1="339.8" y1="871.072837208882" x2="337.6" y2="871.072837208882" stroke="#262626" stroke-width="1.2"/><line x1="85.4" y1="857.563581395559" x2="87.60000000000001" y2="857.563581395559" stroke="#262626" stroke-width="1.2"/><line x1="339.8" y1="857.563581395559" x2="337.6" y2="857.563581395559" stroke="#262626" stroke-width="1.2"/><line x1="85.4" y1="846.5257156965201" x2="87.60000000000001" y2="846.5257156965201" stroke="#262626" stroke-width="1.2"/><line x1="339.8" y1="846.5257156965201" x2="337.6" y2="846.5257156965201" stroke="#262626" stroke-width="1.2"/><line x1="85.4" y1="837.1933332220126" x2="87.60000000000001" y2="837.1933332220126" stroke="#262626" stroke-width="1.2"/><line x1="339.8" y1="837.1933332220126" x2="337.6" y2="837.1933332220126" stroke="#262626" stroke-width="1.2"/><line x1="85.4" y1="829.1092558133231" x2="87.60000000000001" y2="829.1092558133231" stroke="#262626" stroke-width="1.2"/><line x1="339.8" y1="829.1092558133231" x2="337.6" y2="829.1092558133231" stroke="#262626" stroke-width="1.2"/><line x1="85.4" y1="821.9785941841582" x2="87.60000000000001" y2="821.9785941841582" stroke="#262626" stroke-width="1.2"/><line x1="339.8" y1="821.9785941841582" x2="337.6" y2="821.9785941841582" stroke="#262626" stroke-width="1.2"/><line x1="85.4" y1="773.636418604441" x2="87.60000000000001" y2="773.636418604441" stroke="#262626" stroke-width="1.2"/><line x1="339.8" y1="773.636418604441" x2="337.6" y2="773.636418604441" stroke="#262626" stroke-width="1.2"/><line x1="85.4" y1="749.089297092079" x2="87.60000000000001" y2="749.089297092079" stroke="#262626" stroke-width="1.2"/><line x1="339.8" y1="749.089297092079" x2="337.6" y2="749.089297092079" stroke="#262626" stroke-width="1.2"/><rect x="85.4" y="731.4" width="254.40" height="254.40" fill="none" stroke="#262626" stroke-width="1.5"/><text x="85.4" y="1014.0" font-family="'Liberation Sans', sans-serif" font-size="23.5" font-style="normal" text-anchor="middle" fill="#262626" >0.02</text><text x="186.9" y="1014.0" font-family="'Liberation Sans', sans-serif" font-size="23.5" font-style="normal" text-anchor="middle" fill="#262626" >0.06</text><text x="288.4" y="1014.0" font-family="'Liberation Sans', sans-serif" font-size="23.5" font-style="normal" text-anchor="middle" fill="#262626" >0.1</text><text x="-0.00" y="0" transform="translate(32.40,827.00) scale(0.9763,1)" font-family="'Liberation Sans', sans-serif" font-size="23.5" font-style="normal" fill="#262626" textLength="24.33" lengthAdjust="spacing">10</text><text x="-0.00" y="0" transform="translate(58.70,816.30) scale(0.9937,1)" font-family="'Liberation Sans', sans-serif" font-size="17" font-style="normal" fill="#262626" textLength="19.02" lengthAdjust="spacing">−1</text><text x="-0.00" y="0" transform="translate(32.60,967.20) scale(0.9732,1)" font-family="'Liberation Sans', sans-serif" font-size="23.5" font-style="normal" fill="#262626" textLength="24.10" lengthAdjust="spacing">10</text><text x="-0.00" y="0" transform="translate(58.70,956.20) scale(0.9884,1)" font-family="'Liberation Sans', sans-serif" font-size="17" font-style="normal" fill="#262626" textLength="18.72" lengthAdjust="spacing">−2</text><rect x="213.8" y="738.1" width="119.10" height="51.50" fill="#ffffff" stroke="#262626" stroke-width="1.4"/><line x1="231.30" y1="743.60" x2="231.30" y2="759.30" stroke="#000000" stroke-width="1.3" /><line x1="228.70" y1="743.60" x2="233.90" y2="743.60" stroke="#000000" stroke-width="1.3" /><line x1="228.70" y1="759.30" x2="233.90" y2="759.30" stroke="#000000" stroke-width="1.3" /><path d="M231.30,747.60 L234.70,751.50 L231.30,755.40 L227.90,751.50 Z" fill="#000000" stroke="#000000" stroke-width="0.5" stroke-linejoin="round"/><line x1="231.30" y1="768.00" x2="231.30" y2="783.60" stroke="#ff0000" stroke-width="1.1" /><line x1="228.70" y1="768.00" x2="233.90" y2="768.00" stroke="#ff0000" stroke-width="1.1" /><line x1="228.70" y1="783.60" x2="233.90" y2="783.60" stroke="#ff0000" stroke-width="1.1" /><circle cx="231.30" cy="775.80" r="3.6" fill="#ff0000" stroke="#ff0000" stroke-width="0"/><text x="-0.00" y="0" transform="translate(247.60,757.60) scale(1.1493,1)" font-family="'Liberation Serif', serif" font-size="19" font-style="italic" fill="#3a3a3a" textLength="9.33" lengthAdjust="spacing">θ</text><text x="0.88" y="0" transform="translate(264.50,757.60) scale(1.2000,1)" font-family="'Liberation Serif', serif" font-size="19" font-style="normal" fill="#3a3a3a">=</text><text x="-0.00" y="0" transform="translate(284.60,757.60) scale(0.9474,1)" font-family="'Liberation Serif', serif" font-size="19" font-style="normal" fill="#3a3a3a" textLength="9.50" lengthAdjust="spacing">0</text><text x="-0.00" y="0" transform="translate(247.60,781.80) scale(1.1493,1)" font-family="'Liberation Serif', serif" font-size="19" font-style="italic" fill="#3a3a3a" textLength="9.33" lengthAdjust="spacing">θ</text><text x="0.88" y="0" transform="translate(264.50,781.80) scale(1.2000,1)" font-family="'Liberation Serif', serif" font-size="19" font-style="normal" fill="#3a3a3a">=</text><text x="-0.00" y="0" transform="translate(284.60,781.80) scale(1.0038,1)" font-family="'Liberation Serif', serif" font-size="19" font-style="normal" fill="#3a3a3a" textLength="43.24" lengthAdjust="spacing">14.03</text><text x="-0.00" y="0" transform="translate(143.60,1039.70) scale(1.0258,1)" font-family="'Liberation Serif', serif" font-size="26" font-style="italic" fill="#3a3a3a" textLength="54.59" lengthAdjust="spacing">Time</text><text x="-0.00" y="0" transform="translate(211.50,1039.70) scale(0.9993,1)" font-family="'Liberation Serif', serif" font-size="26" font-style="italic" fill="#3a3a3a" textLength="69.15" lengthAdjust="spacing">(msec)</text><text x="-0.00" y="0" transform="translate(315.90,1039.70) scale(0.9625,1)" font-family="'Liberation Serif', serif" font-size="26" font-style="normal" fill="#3a3a3a" textLength="27.04" lengthAdjust="spacing">(d)</text><text x="0.25" y="0" transform="translate(18.50,989.40) rotate(-90) scale(1.0259,1)" font-family="'Liberation Serif', serif" font-size="25" font-style="italic" fill="#3a3a3a" textLength="187.18" lengthAdjust="spacing">Peak Correlation</text><text x="-0.00" y="0" transform="translate(18.50,785.60) rotate(-90) scale(1.0169,1)" font-family="'Liberation Serif', serif" font-size="25" font-style="italic" fill="#3a3a3a" textLength="55.48" lengthAdjust="spacing">(mm)</text><clipPath id="ce"><rect x="426.6" y="731.3" width="254.69999999999993" height="254.5"/></clipPath><g clip-path="url(#ce)"><line x1="435.09" y1="948.35" x2="457.73" y2="804.36" stroke="#000000" stroke-width="1.8" stroke-dasharray="5 4"/><line x1="437.92" y1="927.30" x2="437.92" y2="937.10" stroke="#000000" stroke-width="1.1" /><line x1="435.32" y1="927.30" x2="440.52" y2="927.30" stroke="#000000" stroke-width="1.1" /><line x1="435.32" y1="937.10" x2="440.52" y2="937.10" stroke="#000000" stroke-width="1.1" /><line x1="440.75" y1="907.50" x2="440.75" y2="918.30" stroke="#000000" stroke-width="1.1" /><line x1="438.15" y1="907.50" x2="443.35" y2="907.50" stroke="#000000" stroke-width="1.1" /><line x1="438.15" y1="918.30" x2="443.35" y2="918.30" stroke="#000000" stroke-width="1.1" /><line x1="443.58" y1="890.50" x2="443.58" y2="901.10" stroke="#000000" stroke-width="1.1" /><line x1="440.98" y1="890.50" x2="446.18" y2="890.50" stroke="#000000" stroke-width="1.1" /><line x1="440.98" y1="901.10" x2="446.18" y2="901.10" stroke="#000000" stroke-width="1.1" /><line x1="446.41" y1="865.20" x2="446.41" y2="879.20" stroke="#000000" stroke-width="1.1" /><line x1="443.81" y1="865.20" x2="449.01" y2="865.20" stroke="#000000" stroke-width="1.1" /><line x1="443.81" y1="879.20" x2="449.01" y2="879.20" stroke="#000000" stroke-width="1.1" /><line x1="452.07" y1="831.80" x2="452.07" y2="849.20" stroke="#000000" stroke-width="1.1" /><line x1="449.47" y1="831.80" x2="454.67" y2="831.80" stroke="#000000" stroke-width="1.1" /><line x1="449.47" y1="849.20" x2="454.67" y2="849.20" stroke="#000000" stroke-width="1.1" /><line x1="454.90" y1="816.30" x2="454.90" y2="830.70" stroke="#000000" stroke-width="1.1" /><line x1="452.30" y1="816.30" x2="457.50" y2="816.30" stroke="#000000" stroke-width="1.1" /><line x1="452.30" y1="830.70" x2="457.50" y2="830.70" stroke="#000000" stroke-width="1.1" /><line x1="457.73" y1="796.60" x2="457.73" y2="823.60" stroke="#000000" stroke-width="1.1" /><line x1="455.13" y1="796.60" x2="460.33" y2="796.60" stroke="#000000" stroke-width="1.1" /><line x1="455.13" y1="823.60" x2="460.33" y2="823.60" stroke="#000000" stroke-width="1.1" /><path d="M435.09,947.30 L438.99,952.20 L435.09,957.10 L431.19,952.20 Z" fill="#000000" stroke="#000000" stroke-width="0.5" stroke-linejoin="round"/><path d="M437.92,927.30 L441.82,932.20 L437.92,937.10 L434.02,932.20 Z" fill="#000000" stroke="#000000" stroke-width="0.5" stroke-linejoin="round"/><path d="M440.75,908.00 L444.65,912.90 L440.75,917.80 L436.85,912.90 Z" fill="#000000" stroke="#000000" stroke-width="0.5" stroke-linejoin="round"/><path d="M443.58,890.90 L447.48,895.80 L443.58,900.70 L439.68,895.80 Z" fill="#000000" stroke="#000000" stroke-width="0.5" stroke-linejoin="round"/><path d="M446.41,867.30 L450.31,872.20 L446.41,877.10 L442.51,872.20 Z" fill="#000000" stroke="#000000" stroke-width="0.5" stroke-linejoin="round"/><path d="M449.24,846.80 L453.14,851.70 L449.24,856.60 L445.34,851.70 Z" fill="#000000" stroke="#000000" stroke-width="0.5" stroke-linejoin="round"/><path d="M452.07,835.60 L455.97,840.50 L452.07,845.40 L448.17,840.50 Z" fill="#000000" stroke="#000000" stroke-width="0.5" stroke-linejoin="round"/><path d="M454.90,818.60 L458.80,823.50 L454.90,828.40 L451.00,823.50 Z" fill="#000000" stroke="#000000" stroke-width="0.5" stroke-linejoin="round"/><path d="M457.73,805.20 L461.63,810.10 L457.73,815.00 L453.83,810.10 Z" fill="#000000" stroke="#000000" stroke-width="0.5" stroke-linejoin="round"/><line x1="491.69" y1="972.00" x2="514.33" y2="880.00" stroke="#0000ff" stroke-width="1.5" /><line x1="514.33" y1="870.70" x2="514.33" y2="893.80" stroke="#0000ff" stroke-width="1.1" /><line x1="511.73" y1="870.70" x2="516.93" y2="870.70" stroke="#0000ff" stroke-width="1.1" /><line x1="511.73" y1="893.80" x2="516.93" y2="893.80" stroke="#0000ff" stroke-width="1.1" /><line x1="511.50" y1="885.10" x2="511.50" y2="915.20" stroke="#0000ff" stroke-width="1.1" /><line x1="508.90" y1="885.10" x2="514.10" y2="885.10" stroke="#0000ff" stroke-width="1.1" /><line x1="508.90" y1="915.20" x2="514.10" y2="915.20" stroke="#0000ff" stroke-width="1.1" /><line x1="505.84" y1="915.00" x2="505.84" y2="924.50" stroke="#0000ff" stroke-width="1.1" /><line x1="503.24" y1="915.00" x2="508.44" y2="915.00" stroke="#0000ff" stroke-width="1.1" /><line x1="503.24" y1="924.50" x2="508.44" y2="924.50" stroke="#0000ff" stroke-width="1.1" /><circle cx="491.69" cy="970.40" r="3.8" fill="#0000ff" stroke="#0000ff" stroke-width="0"/><circle cx="494.52" cy="960.70" r="3.8" fill="#0000ff" stroke="#0000ff" stroke-width="0"/><circle cx="497.35" cy="950.30" r="3.8" fill="#0000ff" stroke="#0000ff" stroke-width="0"/><circle cx="500.18" cy="940.00" r="3.8" fill="#0000ff" stroke="#0000ff" stroke-width="0"/><circle cx="503.01" cy="929.80" r="3.8" fill="#0000ff" stroke="#0000ff" stroke-width="0"/><circle cx="505.84" cy="919.90" r="3.8" fill="#0000ff" stroke="#0000ff" stroke-width="0"/><circle cx="508.67" cy="908.20" r="3.8" fill="#0000ff" stroke="#0000ff" stroke-width="0"/><circle cx="511.50" cy="900.00" r="3.8" fill="#0000ff" stroke="#0000ff" stroke-width="0"/><circle cx="514.33" cy="882.30" r="3.8" fill="#0000ff" stroke="#0000ff" stroke-width="0"/><line x1="548.29" y1="968.00" x2="570.93" y2="862.00" stroke="#00ff00" stroke-width="1.6" stroke-dasharray="5 3"/><line x1="568.10" y1="858.00" x2="568.10" y2="932.60" stroke="#00ff00" stroke-width="1.1" /><line x1="565.50" y1="858.00" x2="570.70" y2="858.00" stroke="#00ff00" stroke-width="1.1" /><line x1="565.50" y1="932.60" x2="570.70" y2="932.60" stroke="#00ff00" stroke-width="1.1" /><line x1="570.93" y1="850.40" x2="570.93" y2="883.10" stroke="#00ff00" stroke-width="1.1" /><line x1="568.33" y1="850.40" x2="573.53" y2="850.40" stroke="#00ff00" stroke-width="1.1" /><line x1="568.33" y1="883.10" x2="573.53" y2="883.10" stroke="#00ff00" stroke-width="1.1" /><line x1="559.61" y1="912.00" x2="559.61" y2="922.30" stroke="#00ff00" stroke-width="1.1" /><line x1="557.01" y1="912.00" x2="562.21" y2="912.00" stroke="#00ff00" stroke-width="1.1" /><line x1="557.01" y1="922.30" x2="562.21" y2="922.30" stroke="#00ff00" stroke-width="1.1" /><line x1="544.39" y1="966.50" x2="552.19" y2="966.50" stroke="#00ff00" stroke-width="1.1" /><line x1="545.53" y1="963.74" x2="551.05" y2="969.26" stroke="#00ff00" stroke-width="1.1" /><line x1="548.29" y1="962.60" x2="548.29" y2="970.40" stroke="#00ff00" stroke-width="1.1" /><line x1="551.05" y1="963.74" x2="545.53" y2="969.26" stroke="#00ff00" stroke-width="1.1" /><line x1="547.22" y1="952.20" x2="555.02" y2="952.20" stroke="#00ff00" stroke-width="1.1" /><line x1="548.36" y1="949.44" x2="553.88" y2="954.96" stroke="#00ff00" stroke-width="1.1" /><line x1="551.12" y1="948.30" x2="551.12" y2="956.10" stroke="#00ff00" stroke-width="1.1" /><line x1="553.88" y1="949.44" x2="548.36" y2="954.96" stroke="#00ff00" stroke-width="1.1" /><line x1="550.05" y1="938.80" x2="557.85" y2="938.80" stroke="#00ff00" stroke-width="1.1" /><line x1="551.19" y1="936.04" x2="556.71" y2="941.56" stroke="#00ff00" stroke-width="1.1" /><line x1="553.95" y1="934.90" x2="553.95" y2="942.70" stroke="#00ff00" stroke-width="1.1" /><line x1="556.71" y1="936.04" x2="551.19" y2="941.56" stroke="#00ff00" stroke-width="1.1" /><line x1="552.88" y1="929.70" x2="560.68" y2="929.70" stroke="#00ff00" stroke-width="1.1" /><line x1="554.02" y1="926.94" x2="559.54" y2="932.46" stroke="#00ff00" stroke-width="1.1" /><line x1="556.78" y1="925.80" x2="556.78" y2="933.60" stroke="#00ff00" stroke-width="1.1" /><line x1="559.54" y1="926.94" x2="554.02" y2="932.46" stroke="#00ff00" stroke-width="1.1" /><line x1="555.71" y1="917.60" x2="563.51" y2="917.60" stroke="#00ff00" stroke-width="1.1" /><line x1="556.85" y1="914.84" x2="562.37" y2="920.36" stroke="#00ff00" stroke-width="1.1" /><line x1="559.61" y1="913.70" x2="559.61" y2="921.50" stroke="#00ff00" stroke-width="1.1" /><line x1="562.37" y1="914.84" x2="556.85" y2="920.36" stroke="#00ff00" stroke-width="1.1" /><line x1="558.54" y1="908.90" x2="566.34" y2="908.90" stroke="#00ff00" stroke-width="1.1" /><line x1="559.68" y1="906.14" x2="565.20" y2="911.66" stroke="#00ff00" stroke-width="1.1" /><line x1="562.44" y1="905.00" x2="562.44" y2="912.80" stroke="#00ff00" stroke-width="1.1" /><line x1="565.20" y1="906.14" x2="559.68" y2="911.66" stroke="#00ff00" stroke-width="1.1" /><line x1="561.37" y1="896.90" x2="569.17" y2="896.90" stroke="#00ff00" stroke-width="1.1" /><line x1="562.51" y1="894.14" x2="568.03" y2="899.66" stroke="#00ff00" stroke-width="1.1" /><line x1="565.27" y1="893.00" x2="565.27" y2="900.80" stroke="#00ff00" stroke-width="1.1" /><line x1="568.03" y1="894.14" x2="562.51" y2="899.66" stroke="#00ff00" stroke-width="1.1" /><line x1="564.20" y1="894.90" x2="572.00" y2="894.90" stroke="#00ff00" stroke-width="1.1" /><line x1="565.34" y1="892.14" x2="570.86" y2="897.66" stroke="#00ff00" stroke-width="1.1" /><line x1="568.10" y1="891.00" x2="568.10" y2="898.80" stroke="#00ff00" stroke-width="1.1" /><line x1="570.86" y1="892.14" x2="565.34" y2="897.66" stroke="#00ff00" stroke-width="1.1" /><line x1="567.03" y1="866.80" x2="574.83" y2="866.80" stroke="#00ff00" stroke-width="1.1" /><line x1="568.17" y1="864.04" x2="573.69" y2="869.56" stroke="#00ff00" stroke-width="1.1" /><line x1="570.93" y1="862.90" x2="570.93" y2="870.70" stroke="#00ff00" stroke-width="1.1" /><line x1="573.69" y1="864.04" x2="568.17" y2="869.56" stroke="#00ff00" stroke-width="1.1" /><line x1="604.89" y1="957.00" x2="627.53" y2="836.00" stroke="#ff0000" stroke-width="1.2" stroke-dasharray="6 2"/><line x1="627.53" y1="839.40" x2="627.53" y2="862.00" stroke="#ff0000" stroke-width="1.1" /><line x1="624.93" y1="839.40" x2="630.13" y2="839.40" stroke="#ff0000" stroke-width="1.1" /><line x1="624.93" y1="862.00" x2="630.13" y2="862.00" stroke="#ff0000" stroke-width="1.1" /><line x1="624.70" y1="856.40" x2="624.70" y2="867.00" stroke="#ff0000" stroke-width="1.1" /><line x1="622.10" y1="856.40" x2="627.30" y2="856.40" stroke="#ff0000" stroke-width="1.1" /><line x1="622.10" y1="867.00" x2="627.30" y2="867.00" stroke="#ff0000" stroke-width="1.1" /><line x1="621.87" y1="872.00" x2="621.87" y2="883.00" stroke="#ff0000" stroke-width="1.1" /><line x1="619.27" y1="872.00" x2="624.47" y2="872.00" stroke="#ff0000" stroke-width="1.1" /><line x1="619.27" y1="883.00" x2="624.47" y2="883.00" stroke="#ff0000" stroke-width="1.1" /><line x1="619.04" y1="885.00" x2="619.04" y2="895.00" stroke="#ff0000" stroke-width="1.1" /><line x1="616.44" y1="885.00" x2="621.64" y2="885.00" stroke="#ff0000" stroke-width="1.1" /><line x1="616.44" y1="895.00" x2="621.64" y2="895.00" stroke="#ff0000" stroke-width="1.1" /><line x1="610.55" y1="926.00" x2="610.55" y2="936.00" stroke="#ff0000" stroke-width="1.0" /><line x1="608.15" y1="926.00" x2="612.95" y2="926.00" stroke="#ff0000" stroke-width="1.0" /><line x1="608.15" y1="936.00" x2="612.95" y2="936.00" stroke="#ff0000" stroke-width="1.0" /><line x1="613.38" y1="910.00" x2="613.38" y2="921.00" stroke="#ff0000" stroke-width="1.0" /><line x1="610.98" y1="910.00" x2="615.78" y2="910.00" stroke="#ff0000" stroke-width="1.0" /><line x1="610.98" y1="921.00" x2="615.78" y2="921.00" stroke="#ff0000" stroke-width="1.0" /><line x1="616.21" y1="893.00" x2="616.21" y2="904.00" stroke="#ff0000" stroke-width="1.0" /><line x1="613.81" y1="893.00" x2="618.61" y2="893.00" stroke="#ff0000" stroke-width="1.0" /><line x1="613.81" y1="904.00" x2="618.61" y2="904.00" stroke="#ff0000" stroke-width="1.0" /><rect x="601.99" y="952.00" width="5.80" height="5.80" fill="#ff0000"/><rect x="604.82" y="940.00" width="5.80" height="5.80" fill="#ff0000"/><rect x="607.65" y="927.90" width="5.80" height="5.80" fill="#ff0000"/><rect x="610.48" y="912.80" width="5.80" height="5.80" fill="#ff0000"/><rect x="613.31" y="895.80" width="5.80" height="5.80" fill="#ff0000"/><rect x="616.14" y="887.60" width="5.80" height="5.80" fill="#ff0000"/><rect x="618.97" y="874.90" width="5.80" height="5.80" fill="#ff0000"/><rect x="621.80" y="859.20" width="5.80" height="5.80" fill="#ff0000"/><rect x="624.63" y="832.10" width="5.80" height="5.80" fill="#ff0000"/></g><line x1="483.20000000000005" y1="985.8" x2="483.20000000000005" y2="982.8" stroke="#262626" stroke-width="1.3"/><line x1="483.20000000000005" y1="731.3" x2="483.20000000000005" y2="734.3" stroke="#262626" stroke-width="1.3"/><line x1="539.8000000000001" y1="985.8" x2="539.8000000000001" y2="982.8" stroke="#262626" stroke-width="1.3"/><line x1="539.8000000000001" y1="731.3" x2="539.8000000000001" y2="734.3" stroke="#262626" stroke-width="1.3"/><line x1="596.4" y1="985.8" x2="596.4" y2="982.8" stroke="#262626" stroke-width="1.3"/><line x1="596.4" y1="731.3" x2="596.4" y2="734.3" stroke="#262626" stroke-width="1.3"/><line x1="653.0" y1="985.8" x2="653.0" y2="982.8" stroke="#262626" stroke-width="1.3"/><line x1="653.0" y1="731.3" x2="653.0" y2="734.3" stroke="#262626" stroke-width="1.3"/><line x1="426.6" y1="913.0799999999999" x2="429.6" y2="913.0799999999999" stroke="#262626" stroke-width="1.3"/><line x1="681.3" y1="913.0799999999999" x2="678.3" y2="913.0799999999999" stroke="#262626" stroke-width="1.3"/><line x1="426.6" y1="822.18" x2="429.6" y2="822.18" stroke="#262626" stroke-width="1.3"/><line x1="681.3" y1="822.18" x2="678.3" y2="822.18" stroke="#262626" stroke-width="1.3"/><rect x="426.6" y="731.3" width="254.70" height="254.50" fill="none" stroke="#262626" stroke-width="1.5"/><text x="426.6" y="1014.0" font-family="'Liberation Sans', sans-serif" font-size="23.5" font-style="normal" text-anchor="middle" fill="#262626" >0</text><text x="483.2" y="1014.0" font-family="'Liberation Sans', sans-serif" font-size="23.5" font-style="normal" text-anchor="middle" fill="#262626" >0.2</text><text x="539.8" y="1014.0" font-family="'Liberation Sans', sans-serif" font-size="23.5" font-style="normal" text-anchor="middle" fill="#262626" >0.4</text><text x="596.4" y="1014.0" font-family="'Liberation Sans', sans-serif" font-size="23.5" font-style="normal" text-anchor="middle" fill="#262626" >0.6</text><text x="653.0" y="1014.0" font-family="'Liberation Sans', sans-serif" font-size="23.5" font-style="normal" text-anchor="middle" fill="#262626" >0.8</text><text x="419.0" y="922.08" font-family="'Liberation Sans', sans-serif" font-size="23.5" font-style="normal" text-anchor="end" fill="#262626" >5</text><text x="419.0" y="831.18" font-family="'Liberation Sans', sans-serif" font-size="23.5" font-style="normal" text-anchor="end" fill="#262626" >10</text><text x="419.0" y="740.28" font-family="'Liberation Sans', sans-serif" font-size="23.5" font-style="normal" text-anchor="end" fill="#262626" >15</text><rect x="547.8" y="738.1" width="126.60" height="99.50" fill="#ffffff" stroke="#262626" stroke-width="1.4"/><line x1="565.40" y1="743.60" x2="565.40" y2="759.30" stroke="#000000" stroke-width="1.1" /><line x1="562.80" y1="743.60" x2="568.00" y2="743.60" stroke="#000000" stroke-width="1.1" /><line x1="562.80" y1="759.30" x2="568.00" y2="759.30" stroke="#000000" stroke-width="1.1" /><path d="M565.40,747.60 L568.80,751.50 L565.40,755.40 L562.00,751.50 Z" fill="#000000" stroke="#000000" stroke-width="0.5" stroke-linejoin="round"/><line x1="565.40" y1="768.00" x2="565.40" y2="783.60" stroke="#0000ff" stroke-width="1.1" /><line x1="562.80" y1="768.00" x2="568.00" y2="768.00" stroke="#0000ff" stroke-width="1.1" /><line x1="562.80" y1="783.60" x2="568.00" y2="783.60" stroke="#0000ff" stroke-width="1.1" /><circle cx="565.40" cy="775.80" r="3.6" fill="#0000ff" stroke="#0000ff" stroke-width="0"/><line x1="565.40" y1="791.70" x2="565.40" y2="807.30" stroke="#00ff00" stroke-width="1.1" /><line x1="562.80" y1="791.70" x2="568.00" y2="791.70" stroke="#00ff00" stroke-width="1.1" /><line x1="562.80" y1="807.30" x2="568.00" y2="807.30" stroke="#00ff00" stroke-width="1.1" /><line x1="562.20" y1="799.50" x2="568.60" y2="799.50" stroke="#00ff00" stroke-width="1.2" /><line x1="563.14" y1="797.24" x2="567.66" y2="801.76" stroke="#00ff00" stroke-width="1.2" /><line x1="565.40" y1="796.30" x2="565.40" y2="802.70" stroke="#00ff00" stroke-width="1.2" /><line x1="567.66" y1="797.24" x2="563.14" y2="801.76" stroke="#00ff00" stroke-width="1.2" /><line x1="565.40" y1="815.60" x2="565.40" y2="831.20" stroke="#ff0000" stroke-width="1.1" /><line x1="562.80" y1="815.60" x2="568.00" y2="815.60" stroke="#ff0000" stroke-width="1.1" /><line x1="562.80" y1="831.20" x2="568.00" y2="831.20" stroke="#ff0000" stroke-width="1.1" /><rect x="562.50" y="820.50" width="5.80" height="5.80" fill="#ff0000"/><text x="-0.00" y="0" transform="translate(581.90,757.60) scale(1.1493,1)" font-family="'Liberation Serif', serif" font-size="19" font-style="italic" fill="#3a3a3a" textLength="9.33" lengthAdjust="spacing">θ</text><text x="0.88" y="0" transform="translate(598.80,757.60) scale(1.2000,1)" font-family="'Liberation Serif', serif" font-size="19" font-style="normal" fill="#3a3a3a">=</text><text x="-0.00" y="0" transform="translate(618.90,757.60) scale(0.9474,1)" font-family="'Liberation Serif', serif" font-size="19" font-style="normal" fill="#3a3a3a" textLength="9.50" lengthAdjust="spacing">0</text><text x="-0.00" y="0" transform="translate(581.90,781.80) scale(1.1493,1)" font-family="'Liberation Serif', serif" font-size="19" font-style="italic" fill="#3a3a3a" textLength="9.33" lengthAdjust="spacing">θ</text><text x="0.88" y="0" transform="translate(598.80,781.80) scale(1.2000,1)" font-family="'Liberation Serif', serif" font-size="19" font-style="normal" fill="#3a3a3a">=</text><text x="-0.00" y="0" transform="translate(618.90,781.80) scale(0.9912,1)" font-family="'Liberation Serif', serif" font-size="19" font-style="normal" fill="#3a3a3a" textLength="32.38" lengthAdjust="spacing">9.46</text><text x="-0.00" y="0" transform="translate(652.50,773.80) scale(1.0714,1)" font-family="'Liberation Serif', serif" font-size="14" font-style="italic" fill="#3a3a3a" textLength="7.00" lengthAdjust="spacing">o</text><text x="-0.00" y="0" transform="translate(581.90,805.50) scale(1.1493,1)" font-family="'Liberation Serif', serif" font-size="19" font-style="italic" fill="#3a3a3a" textLength="9.33" lengthAdjust="spacing">θ</text><text x="0.88" y="0" transform="translate(598.80,805.50) scale(1.2000,1)" font-family="'Liberation Serif', serif" font-size="19" font-style="normal" fill="#3a3a3a">=</text><text x="-0.00" y="0" transform="translate(618.90,805.50) scale(0.9941,1)" font-family="'Liberation Serif', serif" font-size="19" font-style="normal" fill="#3a3a3a" textLength="41.30" lengthAdjust="spacing">11.31</text><text x="-0.00" y="0" transform="translate(661.50,797.50) scale(1.0714,1)" font-family="'Liberation Serif', serif" font-size="14" font-style="italic" fill="#3a3a3a" textLength="7.00" lengthAdjust="spacing">o</text><text x="-0.00" y="0" transform="translate(581.90,829.40) scale(1.1493,1)" font-family="'Liberation Serif', serif" font-size="19" font-style="italic" fill="#3a3a3a" textLength="9.33" lengthAdjust="spacing">θ</text><text x="0.88" y="0" transform="translate(598.80,829.40) scale(1.2000,1)" font-family="'Liberation Serif', serif" font-size="19" font-style="normal" fill="#3a3a3a">=</text><text x="-0.00" y="0" transform="translate(618.90,829.40) scale(0.9902,1)" font-family="'Liberation Serif', serif" font-size="19" font-style="normal" fill="#3a3a3a" textLength="41.51" lengthAdjust="spacing">14.04</text><text x="-0.00" y="0" transform="translate(661.50,821.40) scale(1.0714,1)" font-family="'Liberation Serif', serif" font-size="14" font-style="italic" fill="#3a3a3a" textLength="7.00" lengthAdjust="spacing">o</text><text x="-0.00" y="0" transform="translate(484.20,1039.70) scale(1.0258,1)" font-family="'Liberation Serif', serif" font-size="26" font-style="italic" fill="#3a3a3a" textLength="54.59" lengthAdjust="spacing">Time</text><text x="-0.00" y="0" transform="translate(552.10,1039.70) scale(1.0026,1)" font-family="'Liberation Serif', serif" font-size="26" font-style="italic" fill="#3a3a3a" textLength="69.82" lengthAdjust="spacing">(msec)</text><text x="-0.00" y="0" transform="translate(659.00,1039.70) scale(0.9599,1)" font-family="'Liberation Serif', serif" font-size="26" font-style="normal" fill="#3a3a3a" textLength="25.52" lengthAdjust="spacing">(e)</text><text x="0.38" y="0" transform="translate(381.00,967.70) rotate(-90) scale(1.0168,1)" font-family="'Liberation Serif', serif" font-size="25" font-style="italic" fill="#3a3a3a" textLength="144.54" lengthAdjust="spacing">Dispalcement</text><text x="-0.00" y="0" transform="translate(381.00,807.40) rotate(-90) scale(1.0209,1)" font-family="'Liberation Serif', serif" font-size="25" font-style="italic" fill="#3a3a3a" textLength="56.14" lengthAdjust="spacing">(mm)</text><text x="1.45" y="0" transform="translate(70.20,265.40) scale(1.2000,1)" font-family="'Liberation Serif', serif" font-size="16.7" font-style="italic" fill="#3a3a3a">τ</text><text x="0.82" y="0" transform="translate(84.50,265.40) scale(1.2000,1)" font-family="'Liberation Serif', serif" font-size="16.7" font-style="normal" fill="#3a3a3a">=</text><text x="-0.00" y="0" transform="translate(103.90,265.40) scale(1.0124,1)" font-family="'Liberation Serif', serif" font-size="16.7" font-style="normal" fill="#3a3a3a" textLength="30.32" lengthAdjust="spacing">0.03</text><text x="-0.00" y="0" transform="translate(142.40,265.40) scale(1.0474,1)" font-family="'Liberation Serif', serif" font-size="16.7" font-style="italic" fill="#3a3a3a" textLength="38.36" lengthAdjust="spacing">msec</text><text x="1.45" y="0" transform="translate(292.60,264.60) scale(1.2000,1)" font-family="'Liberation Serif', serif" font-size="16.7" font-style="italic" fill="#3a3a3a">τ</text><text x="0.82" y="0" transform="translate(306.90,264.60) scale(1.2000,1)" font-family="'Liberation Serif', serif" font-size="16.7" font-style="normal" fill="#3a3a3a">=</text><text x="-0.00" y="0" transform="translate(326.30,264.60) scale(1.0124,1)" font-family="'Liberation Serif', serif" font-size="16.7" font-style="normal" fill="#3a3a3a" textLength="30.32" lengthAdjust="spacing">0.08</text><text x="-0.00" y="0" transform="translate(364.80,264.60) scale(1.0474,1)" font-family="'Liberation Serif', serif" font-size="16.7" font-style="italic" fill="#3a3a3a" textLength="38.36" lengthAdjust="spacing">msec</text><text x="1.45" y="0" transform="translate(514.00,266.00) scale(1.2000,1)" font-family="'Liberation Serif', serif" font-size="16.7" font-style="italic" fill="#3a3a3a">τ</text><text x="0.82" y="0" transform="translate(528.30,266.00) scale(1.2000,1)" font-family="'Liberation Serif', serif" font-size="16.7" font-style="normal" fill="#3a3a3a">=</text><text x="-0.00" y="0" transform="translate(547.70,266.00) scale(1.0124,1)" font-family="'Liberation Serif', serif" font-size="16.7" font-style="normal" fill="#3a3a3a" textLength="30.32" lengthAdjust="spacing">0.13</text><text x="-0.00" y="0" transform="translate(586.20,266.00) scale(1.0474,1)" font-family="'Liberation Serif', serif" font-size="16.7" font-style="italic" fill="#3a3a3a" textLength="38.36" lengthAdjust="spacing">msec</text><text x="-0.00" y="0" transform="translate(349.60,307.20) scale(0.9782,1)" font-family="'Liberation Serif', serif" font-size="24.5" font-style="normal" fill="#3a3a3a" textLength="25.45" lengthAdjust="spacing">(a)</text>
</svg>
</body></html>
